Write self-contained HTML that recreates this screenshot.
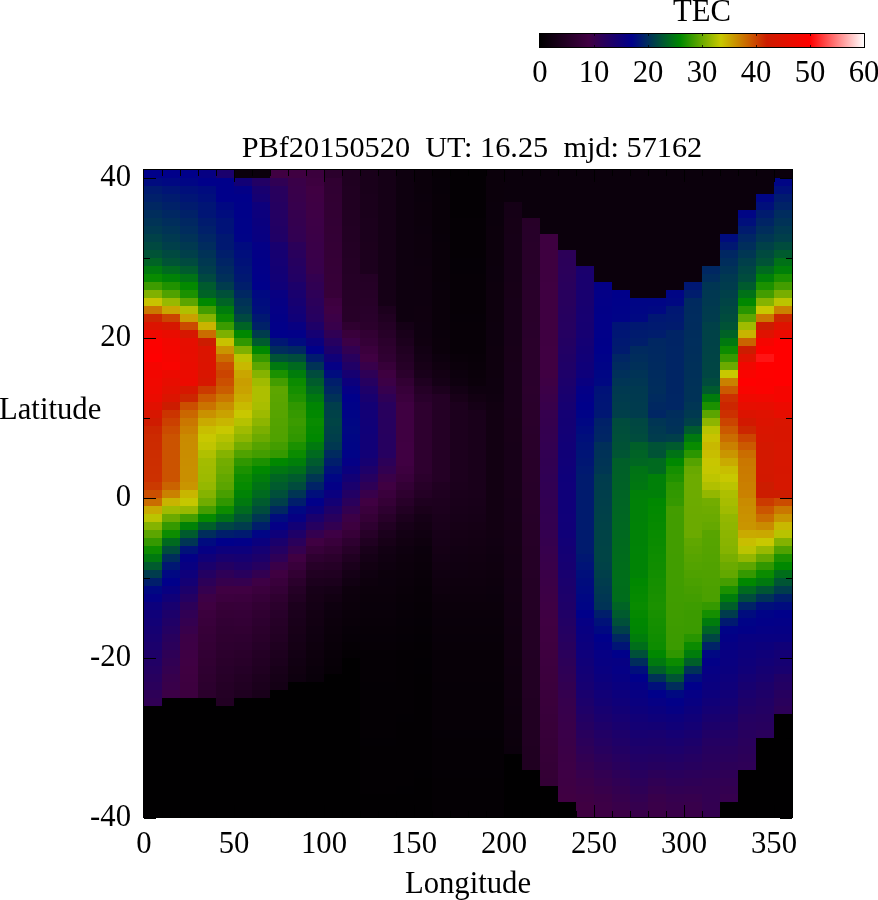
<!DOCTYPE html><html><head><meta charset="utf-8"><title>TEC map</title><style>
html,body{margin:0;padding:0;background:#fff}
#w{position:relative;width:878px;height:900px;background:#fff;overflow:hidden;font-family:"Liberation Serif",serif;font-size:30.7px;color:#000}
.t{position:absolute;white-space:pre;line-height:1;will-change:transform}
.k{position:absolute;background:#000}
svg{position:absolute;left:0;top:0}
</style></head><body><div id="w">
<svg width="878" height="900" viewBox="0 0 878 900" shape-rendering="crispEdges">
<rect x="144" y="170" width="648" height="648" fill="#0b000c"/>
<rect x="144" y="170" width="18" height="8" fill="#00008a"/>
<rect x="144" y="178" width="18" height="8" fill="#000b7f"/>
<rect x="144" y="186" width="18" height="8" fill="#001a70"/>
<rect x="144" y="194" width="18" height="8" fill="#00206a"/>
<rect x="144" y="202" width="18" height="8" fill="#002762"/>
<rect x="144" y="210" width="18" height="8" fill="#002d5c"/>
<rect x="144" y="218" width="18" height="8" fill="#003356"/>
<rect x="144" y="226" width="18" height="8" fill="#003950"/>
<rect x="144" y="234" width="18" height="8" fill="#004148"/>
<rect x="144" y="242" width="18" height="8" fill="#004940"/>
<rect x="144" y="250" width="18" height="8" fill="#005336"/>
<rect x="144" y="258" width="18" height="8" fill="#006425"/>
<rect x="144" y="266" width="18" height="8" fill="#007a0e"/>
<rect x="144" y="274" width="18" height="8" fill="#088b00"/>
<rect x="144" y="282" width="18" height="8" fill="#3d9c00"/>
<rect x="144" y="290" width="18" height="8" fill="#80b100"/>
<rect x="144" y="298" width="18" height="8" fill="#c8c400"/>
<rect x="144" y="306" width="18" height="8" fill="#ca7700"/>
<rect x="144" y="314" width="18" height="8" fill="#cc2600"/>
<rect x="144" y="322" width="18" height="8" fill="#dc1300"/>
<rect x="144" y="330" width="18" height="8" fill="#ef0900"/>
<rect x="144" y="338" width="18" height="8" fill="#fc0200"/>
<rect x="144" y="346" width="18" height="8" fill="#fd0100"/>
<rect x="144" y="354" width="18" height="8" fill="#ff0000"/>
<rect x="144" y="362" width="18" height="8" fill="#f50500"/>
<rect x="144" y="370" width="18" height="8" fill="#f30600"/>
<rect x="144" y="378" width="18" height="8" fill="#f10800"/>
<rect x="144" y="386" width="18" height="8" fill="#ef0900"/>
<rect x="144" y="394" width="18" height="8" fill="#eb0b00"/>
<rect x="144" y="402" width="18" height="8" fill="#e11000"/>
<rect x="144" y="410" width="18" height="8" fill="#d71600"/>
<rect x="144" y="418" width="18" height="8" fill="#cf1b00"/>
<rect x="144" y="426" width="18" height="8" fill="#cc2600"/>
<rect x="144" y="434" width="18" height="8" fill="#cc2a00"/>
<rect x="144" y="442" width="18" height="8" fill="#cc2b00"/>
<rect x="144" y="450" width="18" height="8" fill="#cc2d00"/>
<rect x="144" y="458" width="18" height="8" fill="#cc2e00"/>
<rect x="144" y="466" width="18" height="8" fill="#cc2f00"/>
<rect x="144" y="474" width="18" height="8" fill="#cc3000"/>
<rect x="144" y="482" width="18" height="8" fill="#cb3a00"/>
<rect x="144" y="490" width="18" height="8" fill="#cb4f00"/>
<rect x="144" y="498" width="18" height="8" fill="#ca6d00"/>
<rect x="144" y="506" width="18" height="8" fill="#c9aa00"/>
<rect x="144" y="514" width="18" height="8" fill="#bbc400"/>
<rect x="144" y="522" width="18" height="8" fill="#85b300"/>
<rect x="144" y="530" width="18" height="8" fill="#5da600"/>
<rect x="144" y="538" width="18" height="8" fill="#359900"/>
<rect x="144" y="546" width="18" height="8" fill="#0d8c00"/>
<rect x="144" y="554" width="18" height="8" fill="#00790f"/>
<rect x="144" y="562" width="18" height="8" fill="#005b2e"/>
<rect x="144" y="570" width="18" height="8" fill="#003c4d"/>
<rect x="144" y="578" width="18" height="8" fill="#001e6b"/>
<rect x="144" y="586" width="18" height="8" fill="#000882"/>
<rect x="144" y="594" width="18" height="8" fill="#040086"/>
<rect x="144" y="602" width="18" height="8" fill="#0c007c"/>
<rect x="144" y="610" width="18" height="8" fill="#0f0079"/>
<rect x="144" y="618" width="18" height="8" fill="#120076"/>
<rect x="144" y="626" width="18" height="8" fill="#150072"/>
<rect x="144" y="634" width="18" height="8" fill="#18006f"/>
<rect x="144" y="642" width="18" height="8" fill="#1b006c"/>
<rect x="144" y="650" width="18" height="8" fill="#1e0068"/>
<rect x="144" y="658" width="18" height="8" fill="#210065"/>
<rect x="144" y="666" width="18" height="8" fill="#240062"/>
<rect x="144" y="674" width="18" height="8" fill="#27005e"/>
<rect x="144" y="682" width="18" height="8" fill="#2a005b"/>
<rect x="144" y="690" width="18" height="8" fill="#2d0057"/>
<rect x="144" y="698" width="18" height="8" fill="#300054"/>
<rect x="144" y="706" width="18" height="112" fill="#010001"/>
<rect x="162" y="170" width="18" height="8" fill="#00008a"/>
<rect x="162" y="178" width="18" height="8" fill="#000882"/>
<rect x="162" y="186" width="18" height="8" fill="#001476"/>
<rect x="162" y="194" width="18" height="8" fill="#001b6e"/>
<rect x="162" y="202" width="18" height="8" fill="#002168"/>
<rect x="162" y="210" width="18" height="8" fill="#002762"/>
<rect x="162" y="218" width="18" height="8" fill="#002d5c"/>
<rect x="162" y="226" width="18" height="8" fill="#003356"/>
<rect x="162" y="234" width="18" height="8" fill="#003950"/>
<rect x="162" y="242" width="18" height="8" fill="#003f4a"/>
<rect x="162" y="250" width="18" height="8" fill="#004940"/>
<rect x="162" y="258" width="18" height="8" fill="#005336"/>
<rect x="162" y="266" width="18" height="8" fill="#006a1f"/>
<rect x="162" y="274" width="18" height="8" fill="#008206"/>
<rect x="162" y="282" width="18" height="8" fill="#209200"/>
<rect x="162" y="290" width="18" height="8" fill="#50a200"/>
<rect x="162" y="298" width="18" height="8" fill="#98b900"/>
<rect x="162" y="306" width="18" height="8" fill="#c9a600"/>
<rect x="162" y="314" width="18" height="8" fill="#cb4400"/>
<rect x="162" y="322" width="18" height="8" fill="#d61700"/>
<rect x="162" y="330" width="18" height="8" fill="#e90c00"/>
<rect x="162" y="338" width="18" height="8" fill="#f20700"/>
<rect x="162" y="346" width="18" height="8" fill="#f40600"/>
<rect x="162" y="354" width="18" height="8" fill="#f60500"/>
<rect x="162" y="362" width="18" height="8" fill="#f90400"/>
<rect x="162" y="370" width="18" height="8" fill="#ec0a00"/>
<rect x="162" y="378" width="18" height="8" fill="#e70d00"/>
<rect x="162" y="386" width="18" height="8" fill="#e21000"/>
<rect x="162" y="394" width="18" height="8" fill="#db1400"/>
<rect x="162" y="402" width="18" height="8" fill="#cc1c00"/>
<rect x="162" y="410" width="18" height="8" fill="#cb3400"/>
<rect x="162" y="418" width="18" height="8" fill="#cb4000"/>
<rect x="162" y="426" width="18" height="8" fill="#cb4b00"/>
<rect x="162" y="434" width="18" height="48" fill="#cb5300"/>
<rect x="162" y="482" width="18" height="8" fill="#ca6300"/>
<rect x="162" y="490" width="18" height="8" fill="#ca8100"/>
<rect x="162" y="498" width="18" height="8" fill="#c8b400"/>
<rect x="162" y="506" width="18" height="8" fill="#a0bb00"/>
<rect x="162" y="514" width="18" height="8" fill="#6baa00"/>
<rect x="162" y="522" width="18" height="8" fill="#359900"/>
<rect x="162" y="530" width="18" height="8" fill="#0d8c00"/>
<rect x="162" y="538" width="18" height="8" fill="#006a1f"/>
<rect x="162" y="546" width="18" height="8" fill="#004c3d"/>
<rect x="162" y="554" width="18" height="8" fill="#002d5c"/>
<rect x="162" y="562" width="18" height="8" fill="#001773"/>
<rect x="162" y="570" width="18" height="8" fill="#000882"/>
<rect x="162" y="578" width="18" height="8" fill="#00008a"/>
<rect x="162" y="586" width="18" height="8" fill="#080081"/>
<rect x="162" y="594" width="18" height="8" fill="#100078"/>
<rect x="162" y="602" width="18" height="8" fill="#18006f"/>
<rect x="162" y="610" width="18" height="8" fill="#1c006a"/>
<rect x="162" y="618" width="18" height="8" fill="#200066"/>
<rect x="162" y="626" width="18" height="8" fill="#240062"/>
<rect x="162" y="634" width="18" height="8" fill="#28005d"/>
<rect x="162" y="642" width="18" height="8" fill="#2b005a"/>
<rect x="162" y="650" width="18" height="8" fill="#2e0056"/>
<rect x="162" y="658" width="18" height="8" fill="#310053"/>
<rect x="162" y="666" width="18" height="8" fill="#340050"/>
<rect x="162" y="674" width="18" height="8" fill="#37004c"/>
<rect x="162" y="682" width="18" height="8" fill="#39004a"/>
<rect x="162" y="690" width="18" height="8" fill="#3c0046"/>
<rect x="162" y="698" width="18" height="120" fill="#010001"/>
<rect x="180" y="170" width="18" height="8" fill="#00008a"/>
<rect x="180" y="178" width="18" height="8" fill="#000585"/>
<rect x="180" y="186" width="18" height="8" fill="#000f7b"/>
<rect x="180" y="194" width="18" height="8" fill="#001575"/>
<rect x="180" y="202" width="18" height="8" fill="#001b6e"/>
<rect x="180" y="210" width="18" height="8" fill="#002168"/>
<rect x="180" y="218" width="18" height="8" fill="#002762"/>
<rect x="180" y="226" width="18" height="8" fill="#002c5e"/>
<rect x="180" y="234" width="18" height="8" fill="#003257"/>
<rect x="180" y="242" width="18" height="8" fill="#003950"/>
<rect x="180" y="250" width="18" height="8" fill="#003f4a"/>
<rect x="180" y="258" width="18" height="8" fill="#004a3f"/>
<rect x="180" y="266" width="18" height="8" fill="#005b2e"/>
<rect x="180" y="274" width="18" height="8" fill="#007315"/>
<rect x="180" y="282" width="18" height="8" fill="#038900"/>
<rect x="180" y="290" width="18" height="8" fill="#1b9100"/>
<rect x="180" y="298" width="18" height="8" fill="#5ba500"/>
<rect x="180" y="306" width="18" height="8" fill="#b0c000"/>
<rect x="180" y="314" width="18" height="8" fill="#c9a000"/>
<rect x="180" y="322" width="18" height="8" fill="#cb4b00"/>
<rect x="180" y="330" width="18" height="8" fill="#d61700"/>
<rect x="180" y="338" width="18" height="8" fill="#e60e00"/>
<rect x="180" y="346" width="18" height="8" fill="#e70d00"/>
<rect x="180" y="354" width="18" height="8" fill="#e80d00"/>
<rect x="180" y="362" width="18" height="8" fill="#e90c00"/>
<rect x="180" y="370" width="18" height="8" fill="#eb0b00"/>
<rect x="180" y="378" width="18" height="8" fill="#ec0a00"/>
<rect x="180" y="386" width="18" height="8" fill="#d61700"/>
<rect x="180" y="394" width="18" height="8" fill="#cc2600"/>
<rect x="180" y="402" width="18" height="8" fill="#cb4f00"/>
<rect x="180" y="410" width="18" height="8" fill="#ca6700"/>
<rect x="180" y="418" width="18" height="8" fill="#ca7700"/>
<rect x="180" y="426" width="18" height="8" fill="#ca8100"/>
<rect x="180" y="434" width="18" height="8" fill="#c98b00"/>
<rect x="180" y="442" width="18" height="8" fill="#c98c00"/>
<rect x="180" y="450" width="18" height="8" fill="#c98d00"/>
<rect x="180" y="458" width="18" height="8" fill="#c98e00"/>
<rect x="180" y="466" width="18" height="16" fill="#c98f00"/>
<rect x="180" y="482" width="18" height="8" fill="#c99500"/>
<rect x="180" y="490" width="18" height="8" fill="#c8b600"/>
<rect x="180" y="498" width="18" height="8" fill="#c5c700"/>
<rect x="180" y="506" width="18" height="8" fill="#98b900"/>
<rect x="180" y="514" width="18" height="8" fill="#459e00"/>
<rect x="180" y="522" width="18" height="8" fill="#008206"/>
<rect x="180" y="530" width="18" height="8" fill="#005b2e"/>
<rect x="180" y="538" width="18" height="8" fill="#003554"/>
<rect x="180" y="546" width="18" height="8" fill="#001278"/>
<rect x="180" y="554" width="18" height="8" fill="#030086"/>
<rect x="180" y="562" width="18" height="8" fill="#080081"/>
<rect x="180" y="570" width="18" height="8" fill="#0e007b"/>
<rect x="180" y="578" width="18" height="8" fill="#140074"/>
<rect x="180" y="586" width="18" height="8" fill="#1c006a"/>
<rect x="180" y="594" width="18" height="8" fill="#240062"/>
<rect x="180" y="602" width="18" height="8" fill="#2c0058"/>
<rect x="180" y="610" width="18" height="8" fill="#300054"/>
<rect x="180" y="618" width="18" height="8" fill="#340050"/>
<rect x="180" y="626" width="18" height="8" fill="#38004b"/>
<rect x="180" y="634" width="18" height="8" fill="#3c0046"/>
<rect x="180" y="642" width="18" height="8" fill="#3d0045"/>
<rect x="180" y="650" width="18" height="8" fill="#3e0044"/>
<rect x="180" y="658" width="18" height="8" fill="#3f0043"/>
<rect x="180" y="666" width="18" height="8" fill="#3f0041"/>
<rect x="180" y="674" width="18" height="8" fill="#3e0040"/>
<rect x="180" y="682" width="18" height="8" fill="#3d003f"/>
<rect x="180" y="690" width="18" height="8" fill="#3c003e"/>
<rect x="180" y="698" width="18" height="120" fill="#010001"/>
<rect x="198" y="170" width="18" height="8" fill="#060083"/>
<rect x="198" y="178" width="18" height="8" fill="#00008a"/>
<rect x="198" y="186" width="18" height="8" fill="#000b7f"/>
<rect x="198" y="194" width="18" height="8" fill="#000f7b"/>
<rect x="198" y="202" width="18" height="16" fill="#001575"/>
<rect x="198" y="218" width="18" height="8" fill="#001b6e"/>
<rect x="198" y="226" width="18" height="8" fill="#00206a"/>
<rect x="198" y="234" width="18" height="8" fill="#002664"/>
<rect x="198" y="242" width="18" height="8" fill="#002c5e"/>
<rect x="198" y="250" width="18" height="8" fill="#003257"/>
<rect x="198" y="258" width="18" height="8" fill="#003851"/>
<rect x="198" y="266" width="18" height="8" fill="#003e4b"/>
<rect x="198" y="274" width="18" height="8" fill="#004940"/>
<rect x="198" y="282" width="18" height="8" fill="#005b2e"/>
<rect x="198" y="290" width="18" height="8" fill="#006226"/>
<rect x="198" y="298" width="18" height="8" fill="#008800"/>
<rect x="198" y="306" width="18" height="8" fill="#439d00"/>
<rect x="198" y="314" width="18" height="8" fill="#85b300"/>
<rect x="198" y="322" width="18" height="8" fill="#c8b400"/>
<rect x="198" y="330" width="18" height="8" fill="#ca6d00"/>
<rect x="198" y="338" width="18" height="8" fill="#cc1c00"/>
<rect x="198" y="346" width="18" height="16" fill="#db1400"/>
<rect x="198" y="362" width="18" height="8" fill="#dc1300"/>
<rect x="198" y="370" width="18" height="8" fill="#d91500"/>
<rect x="198" y="378" width="18" height="8" fill="#d61700"/>
<rect x="198" y="386" width="18" height="8" fill="#cb3a00"/>
<rect x="198" y="394" width="18" height="8" fill="#cb5900"/>
<rect x="198" y="402" width="18" height="8" fill="#ca7300"/>
<rect x="198" y="410" width="18" height="8" fill="#c99100"/>
<rect x="198" y="418" width="18" height="8" fill="#c9aa00"/>
<rect x="198" y="426" width="18" height="8" fill="#c8be00"/>
<rect x="198" y="434" width="18" height="8" fill="#c8c800"/>
<rect x="198" y="442" width="18" height="8" fill="#c0c500"/>
<rect x="198" y="450" width="18" height="8" fill="#b0c000"/>
<rect x="198" y="458" width="18" height="8" fill="#a3bc00"/>
<rect x="198" y="466" width="18" height="8" fill="#a0bb00"/>
<rect x="198" y="474" width="18" height="8" fill="#9dba00"/>
<rect x="198" y="482" width="18" height="8" fill="#95b800"/>
<rect x="198" y="490" width="18" height="8" fill="#85b300"/>
<rect x="198" y="498" width="18" height="8" fill="#70ac00"/>
<rect x="198" y="506" width="18" height="8" fill="#459e00"/>
<rect x="198" y="514" width="18" height="8" fill="#058a00"/>
<rect x="198" y="522" width="18" height="8" fill="#005f29"/>
<rect x="198" y="530" width="18" height="8" fill="#002d5c"/>
<rect x="198" y="538" width="18" height="8" fill="#000b7f"/>
<rect x="198" y="546" width="18" height="8" fill="#060083"/>
<rect x="198" y="554" width="18" height="8" fill="#100078"/>
<rect x="198" y="562" width="18" height="8" fill="#1a006c"/>
<rect x="198" y="570" width="18" height="8" fill="#230062"/>
<rect x="198" y="578" width="18" height="8" fill="#2c0058"/>
<rect x="198" y="586" width="18" height="8" fill="#35004f"/>
<rect x="198" y="594" width="18" height="8" fill="#3d0046"/>
<rect x="198" y="602" width="18" height="8" fill="#3f0041"/>
<rect x="198" y="610" width="18" height="8" fill="#3b003d"/>
<rect x="198" y="618" width="18" height="8" fill="#39003b"/>
<rect x="198" y="626" width="18" height="8" fill="#370038"/>
<rect x="198" y="634" width="18" height="8" fill="#350037"/>
<rect x="198" y="642" width="18" height="8" fill="#340035"/>
<rect x="198" y="650" width="18" height="8" fill="#320034"/>
<rect x="198" y="658" width="18" height="8" fill="#310032"/>
<rect x="198" y="666" width="18" height="8" fill="#2f0031"/>
<rect x="198" y="674" width="18" height="8" fill="#2e002f"/>
<rect x="198" y="682" width="18" height="8" fill="#2c002e"/>
<rect x="198" y="690" width="18" height="8" fill="#2b002c"/>
<rect x="198" y="698" width="18" height="120" fill="#010001"/>
<rect x="216" y="170" width="18" height="8" fill="#1a006d"/>
<rect x="216" y="178" width="18" height="24" fill="#00008a"/>
<rect x="216" y="202" width="18" height="8" fill="#000882"/>
<rect x="216" y="210" width="18" height="8" fill="#000c7e"/>
<rect x="216" y="218" width="18" height="16" fill="#001278"/>
<rect x="216" y="234" width="18" height="16" fill="#001871"/>
<rect x="216" y="250" width="18" height="8" fill="#001e6b"/>
<rect x="216" y="258" width="18" height="8" fill="#002465"/>
<rect x="216" y="266" width="18" height="8" fill="#002a5f"/>
<rect x="216" y="274" width="18" height="8" fill="#003059"/>
<rect x="216" y="282" width="18" height="8" fill="#003c4d"/>
<rect x="216" y="290" width="18" height="8" fill="#005039"/>
<rect x="216" y="298" width="18" height="8" fill="#006425"/>
<rect x="216" y="306" width="18" height="8" fill="#007c0c"/>
<rect x="216" y="314" width="18" height="8" fill="#0b8b00"/>
<rect x="216" y="322" width="18" height="8" fill="#3b9b00"/>
<rect x="216" y="330" width="18" height="8" fill="#7db000"/>
<rect x="216" y="338" width="18" height="8" fill="#c8c200"/>
<rect x="216" y="346" width="18" height="8" fill="#c99500"/>
<rect x="216" y="354" width="18" height="8" fill="#ca6d00"/>
<rect x="216" y="362" width="18" height="8" fill="#cb4f00"/>
<rect x="216" y="370" width="18" height="8" fill="#cb4400"/>
<rect x="216" y="378" width="18" height="8" fill="#cb4f00"/>
<rect x="216" y="386" width="18" height="8" fill="#ca5d00"/>
<rect x="216" y="394" width="18" height="8" fill="#ca7700"/>
<rect x="216" y="402" width="18" height="8" fill="#c98f00"/>
<rect x="216" y="410" width="18" height="8" fill="#c9a200"/>
<rect x="216" y="418" width="18" height="8" fill="#c8b600"/>
<rect x="216" y="426" width="18" height="8" fill="#c8c800"/>
<rect x="216" y="434" width="18" height="8" fill="#b5c200"/>
<rect x="216" y="442" width="18" height="8" fill="#a5bd00"/>
<rect x="216" y="450" width="18" height="8" fill="#85b300"/>
<rect x="216" y="458" width="18" height="8" fill="#73ad00"/>
<rect x="216" y="466" width="18" height="8" fill="#6dab00"/>
<rect x="216" y="474" width="18" height="8" fill="#63a800"/>
<rect x="216" y="482" width="18" height="8" fill="#5ba500"/>
<rect x="216" y="490" width="18" height="8" fill="#489f00"/>
<rect x="216" y="498" width="18" height="8" fill="#309700"/>
<rect x="216" y="506" width="18" height="8" fill="#0d8c00"/>
<rect x="216" y="514" width="18" height="8" fill="#007117"/>
<rect x="216" y="522" width="18" height="8" fill="#004643"/>
<rect x="216" y="530" width="18" height="8" fill="#001e6b"/>
<rect x="216" y="538" width="18" height="8" fill="#00008a"/>
<rect x="216" y="546" width="18" height="8" fill="#0d007c"/>
<rect x="216" y="554" width="18" height="8" fill="#18006f"/>
<rect x="216" y="562" width="18" height="8" fill="#230062"/>
<rect x="216" y="570" width="18" height="8" fill="#2e0057"/>
<rect x="216" y="578" width="18" height="8" fill="#36004d"/>
<rect x="216" y="586" width="18" height="8" fill="#400042"/>
<rect x="216" y="594" width="18" height="8" fill="#3c003e"/>
<rect x="216" y="602" width="18" height="8" fill="#370038"/>
<rect x="216" y="610" width="18" height="8" fill="#350036"/>
<rect x="216" y="618" width="18" height="8" fill="#320034"/>
<rect x="216" y="626" width="18" height="8" fill="#300032"/>
<rect x="216" y="634" width="18" height="8" fill="#2f0030"/>
<rect x="216" y="642" width="18" height="8" fill="#2d002f"/>
<rect x="216" y="650" width="18" height="8" fill="#2c002d"/>
<rect x="216" y="658" width="18" height="8" fill="#2a002b"/>
<rect x="216" y="666" width="18" height="8" fill="#28002a"/>
<rect x="216" y="674" width="18" height="8" fill="#270028"/>
<rect x="216" y="682" width="18" height="8" fill="#250026"/>
<rect x="216" y="690" width="18" height="8" fill="#240025"/>
<rect x="216" y="698" width="18" height="8" fill="#220023"/>
<rect x="216" y="706" width="18" height="112" fill="#010001"/>
<rect x="234" y="178" width="18" height="8" fill="#120075"/>
<rect x="234" y="186" width="18" height="8" fill="#030086"/>
<rect x="234" y="194" width="18" height="8" fill="#00008a"/>
<rect x="234" y="202" width="18" height="16" fill="#000189"/>
<rect x="234" y="218" width="18" height="16" fill="#000288"/>
<rect x="234" y="234" width="18" height="8" fill="#000387"/>
<rect x="234" y="242" width="18" height="8" fill="#000b7f"/>
<rect x="234" y="250" width="18" height="8" fill="#000e7c"/>
<rect x="234" y="258" width="18" height="8" fill="#001178"/>
<rect x="234" y="266" width="18" height="8" fill="#001575"/>
<rect x="234" y="274" width="18" height="8" fill="#001871"/>
<rect x="234" y="282" width="18" height="8" fill="#001e6b"/>
<rect x="234" y="290" width="18" height="8" fill="#002762"/>
<rect x="234" y="298" width="18" height="8" fill="#003257"/>
<rect x="234" y="306" width="18" height="8" fill="#003950"/>
<rect x="234" y="314" width="18" height="8" fill="#004940"/>
<rect x="234" y="322" width="18" height="8" fill="#006425"/>
<rect x="234" y="330" width="18" height="8" fill="#008800"/>
<rect x="234" y="338" width="18" height="8" fill="#309700"/>
<rect x="234" y="346" width="18" height="8" fill="#7db000"/>
<rect x="234" y="354" width="18" height="8" fill="#bbc400"/>
<rect x="234" y="362" width="18" height="8" fill="#c8b800"/>
<rect x="234" y="370" width="18" height="8" fill="#c9a600"/>
<rect x="234" y="378" width="18" height="8" fill="#c99e00"/>
<rect x="234" y="386" width="18" height="8" fill="#c9a200"/>
<rect x="234" y="394" width="18" height="8" fill="#c9ac00"/>
<rect x="234" y="402" width="18" height="8" fill="#c8ba00"/>
<rect x="234" y="410" width="18" height="8" fill="#c8c800"/>
<rect x="234" y="418" width="18" height="8" fill="#b5c200"/>
<rect x="234" y="426" width="18" height="8" fill="#a0bb00"/>
<rect x="234" y="434" width="18" height="8" fill="#8db500"/>
<rect x="234" y="442" width="18" height="8" fill="#70ac00"/>
<rect x="234" y="450" width="18" height="8" fill="#50a200"/>
<rect x="234" y="458" width="18" height="8" fill="#309700"/>
<rect x="234" y="466" width="18" height="8" fill="#1b9100"/>
<rect x="234" y="474" width="18" height="8" fill="#0d8c00"/>
<rect x="234" y="482" width="18" height="8" fill="#058a00"/>
<rect x="234" y="490" width="18" height="8" fill="#008305"/>
<rect x="234" y="498" width="18" height="8" fill="#00790f"/>
<rect x="234" y="506" width="18" height="8" fill="#006a1f"/>
<rect x="234" y="514" width="18" height="8" fill="#005534"/>
<rect x="234" y="522" width="18" height="8" fill="#003c4d"/>
<rect x="234" y="530" width="18" height="8" fill="#001a70"/>
<rect x="234" y="538" width="18" height="8" fill="#020088"/>
<rect x="234" y="546" width="18" height="8" fill="#0d007c"/>
<rect x="234" y="554" width="18" height="8" fill="#160071"/>
<rect x="234" y="562" width="18" height="8" fill="#1e0068"/>
<rect x="234" y="570" width="18" height="8" fill="#28005d"/>
<rect x="234" y="578" width="18" height="8" fill="#35004f"/>
<rect x="234" y="586" width="18" height="8" fill="#400042"/>
<rect x="234" y="594" width="18" height="8" fill="#3b003d"/>
<rect x="234" y="602" width="18" height="8" fill="#370039"/>
<rect x="234" y="610" width="18" height="8" fill="#350037"/>
<rect x="234" y="618" width="18" height="8" fill="#330035"/>
<rect x="234" y="626" width="18" height="8" fill="#310032"/>
<rect x="234" y="634" width="18" height="8" fill="#2e0030"/>
<rect x="234" y="642" width="18" height="8" fill="#2c002e"/>
<rect x="234" y="650" width="18" height="8" fill="#2a002b"/>
<rect x="234" y="658" width="18" height="8" fill="#280029"/>
<rect x="234" y="666" width="18" height="8" fill="#250027"/>
<rect x="234" y="674" width="18" height="8" fill="#230024"/>
<rect x="234" y="682" width="18" height="8" fill="#210022"/>
<rect x="234" y="690" width="18" height="8" fill="#1f0020"/>
<rect x="234" y="698" width="18" height="120" fill="#010001"/>
<rect x="252" y="178" width="18" height="8" fill="#220064"/>
<rect x="252" y="186" width="18" height="8" fill="#18006f"/>
<rect x="252" y="194" width="18" height="8" fill="#150073"/>
<rect x="252" y="202" width="18" height="8" fill="#0d007c"/>
<rect x="252" y="210" width="18" height="8" fill="#0c007d"/>
<rect x="252" y="218" width="18" height="8" fill="#0a007e"/>
<rect x="252" y="226" width="18" height="8" fill="#090080"/>
<rect x="252" y="234" width="18" height="8" fill="#080081"/>
<rect x="252" y="242" width="18" height="8" fill="#040086"/>
<rect x="252" y="250" width="18" height="8" fill="#030086"/>
<rect x="252" y="258" width="18" height="8" fill="#020087"/>
<rect x="252" y="266" width="18" height="8" fill="#020088"/>
<rect x="252" y="274" width="18" height="8" fill="#010089"/>
<rect x="252" y="282" width="18" height="8" fill="#00008a"/>
<rect x="252" y="290" width="18" height="8" fill="#000981"/>
<rect x="252" y="298" width="18" height="8" fill="#000c7e"/>
<rect x="252" y="306" width="18" height="8" fill="#000f7b"/>
<rect x="252" y="314" width="18" height="8" fill="#001871"/>
<rect x="252" y="322" width="18" height="8" fill="#002168"/>
<rect x="252" y="330" width="18" height="8" fill="#003c4d"/>
<rect x="252" y="338" width="18" height="8" fill="#005b2e"/>
<rect x="252" y="346" width="18" height="8" fill="#008800"/>
<rect x="252" y="354" width="18" height="8" fill="#359900"/>
<rect x="252" y="362" width="18" height="8" fill="#5da600"/>
<rect x="252" y="370" width="18" height="8" fill="#85b300"/>
<rect x="252" y="378" width="18" height="8" fill="#a0bb00"/>
<rect x="252" y="386" width="18" height="16" fill="#adbf00"/>
<rect x="252" y="402" width="18" height="8" fill="#a8be00"/>
<rect x="252" y="410" width="18" height="8" fill="#9dba00"/>
<rect x="252" y="418" width="18" height="8" fill="#8db500"/>
<rect x="252" y="426" width="18" height="8" fill="#7baf00"/>
<rect x="252" y="434" width="18" height="8" fill="#6baa00"/>
<rect x="252" y="442" width="18" height="8" fill="#55a300"/>
<rect x="252" y="450" width="18" height="8" fill="#439d00"/>
<rect x="252" y="458" width="18" height="8" fill="#1b9100"/>
<rect x="252" y="466" width="18" height="8" fill="#008800"/>
<rect x="252" y="474" width="18" height="8" fill="#007d0b"/>
<rect x="252" y="482" width="18" height="8" fill="#007315"/>
<rect x="252" y="490" width="18" height="8" fill="#006a1f"/>
<rect x="252" y="498" width="18" height="8" fill="#005b2e"/>
<rect x="252" y="506" width="18" height="8" fill="#004c3d"/>
<rect x="252" y="514" width="18" height="8" fill="#003653"/>
<rect x="252" y="522" width="18" height="8" fill="#001e6b"/>
<rect x="252" y="530" width="18" height="8" fill="#000585"/>
<rect x="252" y="538" width="18" height="8" fill="#0a007e"/>
<rect x="252" y="546" width="18" height="8" fill="#150073"/>
<rect x="252" y="554" width="18" height="8" fill="#1c006a"/>
<rect x="252" y="562" width="18" height="8" fill="#260060"/>
<rect x="252" y="570" width="18" height="8" fill="#320051"/>
<rect x="252" y="578" width="18" height="8" fill="#3e0045"/>
<rect x="252" y="586" width="18" height="8" fill="#3b003d"/>
<rect x="252" y="594" width="18" height="8" fill="#360038"/>
<rect x="252" y="602" width="18" height="8" fill="#320033"/>
<rect x="252" y="610" width="18" height="8" fill="#300031"/>
<rect x="252" y="618" width="18" height="8" fill="#2d002f"/>
<rect x="252" y="626" width="18" height="8" fill="#2b002c"/>
<rect x="252" y="634" width="18" height="8" fill="#29002a"/>
<rect x="252" y="642" width="18" height="8" fill="#260028"/>
<rect x="252" y="650" width="18" height="8" fill="#240025"/>
<rect x="252" y="658" width="18" height="8" fill="#220023"/>
<rect x="252" y="666" width="18" height="8" fill="#200021"/>
<rect x="252" y="674" width="18" height="8" fill="#1d001e"/>
<rect x="252" y="682" width="18" height="8" fill="#1b001c"/>
<rect x="252" y="690" width="18" height="8" fill="#19001a"/>
<rect x="252" y="698" width="18" height="120" fill="#010001"/>
<rect x="270" y="170" width="18" height="8" fill="#400042"/>
<rect x="270" y="178" width="18" height="8" fill="#300054"/>
<rect x="270" y="186" width="18" height="8" fill="#28005d"/>
<rect x="270" y="194" width="18" height="8" fill="#27005e"/>
<rect x="270" y="202" width="18" height="8" fill="#250060"/>
<rect x="270" y="210" width="18" height="8" fill="#240062"/>
<rect x="270" y="218" width="18" height="8" fill="#230063"/>
<rect x="270" y="226" width="18" height="8" fill="#210064"/>
<rect x="270" y="234" width="18" height="8" fill="#200066"/>
<rect x="270" y="242" width="18" height="8" fill="#18006f"/>
<rect x="270" y="250" width="18" height="8" fill="#160071"/>
<rect x="270" y="258" width="18" height="8" fill="#150073"/>
<rect x="270" y="266" width="18" height="8" fill="#130074"/>
<rect x="270" y="274" width="18" height="8" fill="#120076"/>
<rect x="270" y="282" width="18" height="8" fill="#100078"/>
<rect x="270" y="290" width="18" height="8" fill="#080081"/>
<rect x="270" y="298" width="18" height="8" fill="#060083"/>
<rect x="270" y="306" width="18" height="8" fill="#050085"/>
<rect x="270" y="314" width="18" height="8" fill="#030086"/>
<rect x="270" y="322" width="18" height="8" fill="#020088"/>
<rect x="270" y="330" width="18" height="8" fill="#00008a"/>
<rect x="270" y="338" width="18" height="8" fill="#001773"/>
<rect x="270" y="346" width="18" height="8" fill="#002d5c"/>
<rect x="270" y="354" width="18" height="8" fill="#005336"/>
<rect x="270" y="362" width="18" height="8" fill="#00790f"/>
<rect x="270" y="370" width="18" height="8" fill="#1b9100"/>
<rect x="270" y="378" width="18" height="8" fill="#439d00"/>
<rect x="270" y="386" width="18" height="8" fill="#5da600"/>
<rect x="270" y="394" width="18" height="8" fill="#5ba500"/>
<rect x="270" y="402" width="18" height="8" fill="#59a400"/>
<rect x="270" y="410" width="18" height="8" fill="#57a400"/>
<rect x="270" y="418" width="18" height="8" fill="#54a300"/>
<rect x="270" y="426" width="18" height="8" fill="#52a200"/>
<rect x="270" y="434" width="18" height="8" fill="#50a200"/>
<rect x="270" y="442" width="18" height="8" fill="#439d00"/>
<rect x="270" y="450" width="18" height="8" fill="#359900"/>
<rect x="270" y="458" width="18" height="8" fill="#008800"/>
<rect x="270" y="466" width="18" height="8" fill="#007612"/>
<rect x="270" y="474" width="18" height="8" fill="#006523"/>
<rect x="270" y="482" width="18" height="8" fill="#005b2e"/>
<rect x="270" y="490" width="18" height="8" fill="#004f3a"/>
<rect x="270" y="498" width="18" height="8" fill="#003f4a"/>
<rect x="270" y="506" width="18" height="8" fill="#002762"/>
<rect x="270" y="514" width="18" height="8" fill="#000c7e"/>
<rect x="270" y="522" width="18" height="8" fill="#040086"/>
<rect x="270" y="530" width="18" height="8" fill="#0e007a"/>
<rect x="270" y="538" width="18" height="8" fill="#1a006c"/>
<rect x="270" y="546" width="18" height="8" fill="#240062"/>
<rect x="270" y="554" width="18" height="8" fill="#2e0057"/>
<rect x="270" y="562" width="18" height="8" fill="#3a0049"/>
<rect x="270" y="570" width="18" height="8" fill="#3f0041"/>
<rect x="270" y="578" width="18" height="8" fill="#39003b"/>
<rect x="270" y="586" width="18" height="8" fill="#340036"/>
<rect x="270" y="594" width="18" height="8" fill="#2f0030"/>
<rect x="270" y="602" width="18" height="8" fill="#2b002c"/>
<rect x="270" y="610" width="18" height="8" fill="#28002a"/>
<rect x="270" y="618" width="18" height="8" fill="#260027"/>
<rect x="270" y="626" width="18" height="8" fill="#240025"/>
<rect x="270" y="634" width="18" height="8" fill="#220023"/>
<rect x="270" y="642" width="18" height="8" fill="#1f0020"/>
<rect x="270" y="650" width="18" height="8" fill="#1d001e"/>
<rect x="270" y="658" width="18" height="8" fill="#1b001c"/>
<rect x="270" y="666" width="18" height="8" fill="#180019"/>
<rect x="270" y="674" width="18" height="8" fill="#160017"/>
<rect x="270" y="682" width="18" height="8" fill="#140015"/>
<rect x="270" y="690" width="18" height="128" fill="#010001"/>
<rect x="288" y="170" width="18" height="8" fill="#3f0041"/>
<rect x="288" y="178" width="18" height="8" fill="#3a0048"/>
<rect x="288" y="186" width="18" height="8" fill="#39004a"/>
<rect x="288" y="194" width="18" height="8" fill="#38004b"/>
<rect x="288" y="202" width="18" height="8" fill="#37004d"/>
<rect x="288" y="210" width="18" height="8" fill="#35004e"/>
<rect x="288" y="218" width="18" height="8" fill="#34004f"/>
<rect x="288" y="226" width="18" height="8" fill="#330051"/>
<rect x="288" y="234" width="18" height="8" fill="#320052"/>
<rect x="288" y="242" width="18" height="8" fill="#2b0059"/>
<rect x="288" y="250" width="18" height="8" fill="#29005c"/>
<rect x="288" y="258" width="18" height="8" fill="#26005f"/>
<rect x="288" y="266" width="18" height="8" fill="#240062"/>
<rect x="288" y="274" width="18" height="8" fill="#220064"/>
<rect x="288" y="282" width="18" height="8" fill="#1c006a"/>
<rect x="288" y="290" width="18" height="8" fill="#19006e"/>
<rect x="288" y="298" width="18" height="8" fill="#160071"/>
<rect x="288" y="306" width="18" height="8" fill="#130075"/>
<rect x="288" y="314" width="18" height="8" fill="#100078"/>
<rect x="288" y="322" width="18" height="8" fill="#080081"/>
<rect x="288" y="330" width="18" height="8" fill="#020088"/>
<rect x="288" y="338" width="18" height="8" fill="#000b7f"/>
<rect x="288" y="346" width="18" height="8" fill="#002762"/>
<rect x="288" y="354" width="18" height="8" fill="#004c3d"/>
<rect x="288" y="362" width="18" height="8" fill="#006a1f"/>
<rect x="288" y="370" width="18" height="8" fill="#007d0b"/>
<rect x="288" y="378" width="18" height="8" fill="#0b8b00"/>
<rect x="288" y="386" width="18" height="8" fill="#158f00"/>
<rect x="288" y="394" width="18" height="8" fill="#209200"/>
<rect x="288" y="402" width="18" height="8" fill="#309700"/>
<rect x="288" y="410" width="18" height="8" fill="#359900"/>
<rect x="288" y="418" width="18" height="8" fill="#3b9b00"/>
<rect x="288" y="426" width="18" height="8" fill="#359900"/>
<rect x="288" y="434" width="18" height="8" fill="#309700"/>
<rect x="288" y="442" width="18" height="8" fill="#1b9100"/>
<rect x="288" y="450" width="18" height="8" fill="#0b8b00"/>
<rect x="288" y="458" width="18" height="8" fill="#007f09"/>
<rect x="288" y="466" width="18" height="8" fill="#006e1a"/>
<rect x="288" y="474" width="18" height="8" fill="#005b2e"/>
<rect x="288" y="482" width="18" height="8" fill="#004c3d"/>
<rect x="288" y="490" width="18" height="8" fill="#003554"/>
<rect x="288" y="498" width="18" height="8" fill="#001e6b"/>
<rect x="288" y="506" width="18" height="8" fill="#000882"/>
<rect x="288" y="514" width="18" height="8" fill="#060083"/>
<rect x="288" y="522" width="18" height="8" fill="#120075"/>
<rect x="288" y="530" width="18" height="8" fill="#1e0068"/>
<rect x="288" y="538" width="18" height="8" fill="#2a005b"/>
<rect x="288" y="546" width="18" height="8" fill="#35004f"/>
<rect x="288" y="554" width="18" height="8" fill="#400042"/>
<rect x="288" y="562" width="18" height="8" fill="#39003b"/>
<rect x="288" y="570" width="18" height="8" fill="#320033"/>
<rect x="288" y="578" width="18" height="8" fill="#2b002c"/>
<rect x="288" y="586" width="18" height="8" fill="#250026"/>
<rect x="288" y="594" width="18" height="8" fill="#210022"/>
<rect x="288" y="602" width="18" height="8" fill="#1c001d"/>
<rect x="288" y="610" width="18" height="8" fill="#1b001c"/>
<rect x="288" y="618" width="18" height="8" fill="#19001a"/>
<rect x="288" y="626" width="18" height="8" fill="#180018"/>
<rect x="288" y="634" width="18" height="8" fill="#160017"/>
<rect x="288" y="642" width="18" height="8" fill="#150015"/>
<rect x="288" y="650" width="18" height="8" fill="#130014"/>
<rect x="288" y="658" width="18" height="8" fill="#110012"/>
<rect x="288" y="666" width="18" height="8" fill="#100010"/>
<rect x="288" y="674" width="18" height="8" fill="#0e000f"/>
<rect x="288" y="682" width="18" height="136" fill="#010001"/>
<rect x="306" y="170" width="18" height="8" fill="#3b003d"/>
<rect x="306" y="178" width="18" height="8" fill="#3d003f"/>
<rect x="306" y="186" width="18" height="8" fill="#400042"/>
<rect x="306" y="194" width="18" height="8" fill="#3f0043"/>
<rect x="306" y="202" width="18" height="8" fill="#3e0044"/>
<rect x="306" y="210" width="18" height="8" fill="#3e0045"/>
<rect x="306" y="218" width="18" height="8" fill="#3d0046"/>
<rect x="306" y="226" width="18" height="8" fill="#3c0046"/>
<rect x="306" y="234" width="18" height="8" fill="#3b0047"/>
<rect x="306" y="242" width="18" height="8" fill="#3a0048"/>
<rect x="306" y="250" width="18" height="8" fill="#3a0049"/>
<rect x="306" y="258" width="18" height="8" fill="#39004a"/>
<rect x="306" y="266" width="18" height="8" fill="#38004b"/>
<rect x="306" y="274" width="18" height="8" fill="#330050"/>
<rect x="306" y="282" width="18" height="8" fill="#300053"/>
<rect x="306" y="290" width="18" height="8" fill="#2e0057"/>
<rect x="306" y="298" width="18" height="8" fill="#2b005a"/>
<rect x="306" y="306" width="18" height="8" fill="#28005d"/>
<rect x="306" y="314" width="18" height="8" fill="#260060"/>
<rect x="306" y="322" width="18" height="8" fill="#1e0068"/>
<rect x="306" y="330" width="18" height="8" fill="#150073"/>
<rect x="306" y="338" width="18" height="8" fill="#0a007e"/>
<rect x="306" y="346" width="18" height="8" fill="#00008a"/>
<rect x="306" y="354" width="18" height="8" fill="#001b6e"/>
<rect x="306" y="362" width="18" height="8" fill="#003356"/>
<rect x="306" y="370" width="18" height="8" fill="#004c3d"/>
<rect x="306" y="378" width="18" height="8" fill="#005c2c"/>
<rect x="306" y="386" width="18" height="8" fill="#006a1f"/>
<rect x="306" y="394" width="18" height="8" fill="#00790f"/>
<rect x="306" y="402" width="18" height="8" fill="#008503"/>
<rect x="306" y="410" width="18" height="8" fill="#018800"/>
<rect x="306" y="418" width="18" height="8" fill="#088b00"/>
<rect x="306" y="426" width="18" height="8" fill="#048900"/>
<rect x="306" y="434" width="18" height="8" fill="#008800"/>
<rect x="306" y="442" width="18" height="8" fill="#00790f"/>
<rect x="306" y="450" width="18" height="8" fill="#006a1f"/>
<rect x="306" y="458" width="18" height="8" fill="#005b2e"/>
<rect x="306" y="466" width="18" height="8" fill="#004c3d"/>
<rect x="306" y="474" width="18" height="8" fill="#003653"/>
<rect x="306" y="482" width="18" height="8" fill="#002367"/>
<rect x="306" y="490" width="18" height="8" fill="#000f7b"/>
<rect x="306" y="498" width="18" height="8" fill="#010089"/>
<rect x="306" y="506" width="18" height="8" fill="#0b007d"/>
<rect x="306" y="514" width="18" height="8" fill="#1a006d"/>
<rect x="306" y="522" width="18" height="8" fill="#260060"/>
<rect x="306" y="530" width="18" height="8" fill="#340050"/>
<rect x="306" y="538" width="18" height="8" fill="#400042"/>
<rect x="306" y="546" width="18" height="8" fill="#370039"/>
<rect x="306" y="554" width="18" height="8" fill="#2e0030"/>
<rect x="306" y="562" width="18" height="8" fill="#270028"/>
<rect x="306" y="570" width="18" height="8" fill="#210022"/>
<rect x="306" y="578" width="18" height="8" fill="#1c001d"/>
<rect x="306" y="586" width="18" height="8" fill="#170018"/>
<rect x="306" y="594" width="18" height="8" fill="#160016"/>
<rect x="306" y="602" width="18" height="8" fill="#140015"/>
<rect x="306" y="610" width="18" height="8" fill="#130013"/>
<rect x="306" y="618" width="18" height="8" fill="#120012"/>
<rect x="306" y="626" width="18" height="8" fill="#100011"/>
<rect x="306" y="634" width="18" height="8" fill="#0f0010"/>
<rect x="306" y="642" width="18" height="8" fill="#0e000e"/>
<rect x="306" y="650" width="18" height="8" fill="#0d000d"/>
<rect x="306" y="658" width="18" height="8" fill="#0c000c"/>
<rect x="306" y="666" width="18" height="8" fill="#0a000b"/>
<rect x="306" y="674" width="18" height="8" fill="#09000a"/>
<rect x="306" y="682" width="18" height="136" fill="#010001"/>
<rect x="324" y="170" width="18" height="8" fill="#2b002c"/>
<rect x="324" y="178" width="18" height="8" fill="#300031"/>
<rect x="324" y="186" width="18" height="8" fill="#300032"/>
<rect x="324" y="194" width="18" height="8" fill="#310032"/>
<rect x="324" y="202" width="18" height="8" fill="#310033"/>
<rect x="324" y="210" width="18" height="8" fill="#320033"/>
<rect x="324" y="218" width="18" height="8" fill="#320034"/>
<rect x="324" y="226" width="18" height="8" fill="#330034"/>
<rect x="324" y="234" width="18" height="8" fill="#330035"/>
<rect x="324" y="242" width="18" height="8" fill="#340035"/>
<rect x="324" y="250" width="18" height="8" fill="#340036"/>
<rect x="324" y="258" width="18" height="8" fill="#350036"/>
<rect x="324" y="266" width="18" height="8" fill="#350037"/>
<rect x="324" y="274" width="18" height="8" fill="#360037"/>
<rect x="324" y="282" width="18" height="8" fill="#360038"/>
<rect x="324" y="290" width="18" height="8" fill="#370038"/>
<rect x="324" y="298" width="18" height="8" fill="#3d003f"/>
<rect x="324" y="306" width="18" height="8" fill="#3f0043"/>
<rect x="324" y="314" width="18" height="8" fill="#3c0047"/>
<rect x="324" y="322" width="18" height="8" fill="#38004b"/>
<rect x="324" y="330" width="18" height="8" fill="#300054"/>
<rect x="324" y="338" width="18" height="8" fill="#260060"/>
<rect x="324" y="346" width="18" height="8" fill="#1c006a"/>
<rect x="324" y="354" width="18" height="8" fill="#100078"/>
<rect x="324" y="362" width="18" height="8" fill="#050085"/>
<rect x="324" y="370" width="18" height="8" fill="#000c7e"/>
<rect x="324" y="378" width="18" height="8" fill="#001e6b"/>
<rect x="324" y="386" width="18" height="8" fill="#002762"/>
<rect x="324" y="394" width="18" height="8" fill="#003257"/>
<rect x="324" y="402" width="18" height="8" fill="#003e4b"/>
<rect x="324" y="410" width="18" height="8" fill="#004148"/>
<rect x="324" y="418" width="18" height="8" fill="#004445"/>
<rect x="324" y="426" width="18" height="8" fill="#004148"/>
<rect x="324" y="434" width="18" height="8" fill="#003e4b"/>
<rect x="324" y="442" width="18" height="8" fill="#003851"/>
<rect x="324" y="450" width="18" height="8" fill="#002a5f"/>
<rect x="324" y="458" width="18" height="8" fill="#001e6b"/>
<rect x="324" y="466" width="18" height="8" fill="#001179"/>
<rect x="324" y="474" width="18" height="8" fill="#000684"/>
<rect x="324" y="482" width="18" height="8" fill="#030086"/>
<rect x="324" y="490" width="18" height="8" fill="#0a007f"/>
<rect x="324" y="498" width="18" height="8" fill="#130074"/>
<rect x="324" y="506" width="18" height="8" fill="#1e0068"/>
<rect x="324" y="514" width="18" height="8" fill="#28005d"/>
<rect x="324" y="522" width="18" height="8" fill="#320051"/>
<rect x="324" y="530" width="18" height="8" fill="#3e0045"/>
<rect x="324" y="538" width="18" height="8" fill="#39003b"/>
<rect x="324" y="546" width="18" height="8" fill="#320033"/>
<rect x="324" y="554" width="18" height="8" fill="#2b002c"/>
<rect x="324" y="562" width="18" height="8" fill="#250026"/>
<rect x="324" y="570" width="18" height="8" fill="#200021"/>
<rect x="324" y="578" width="18" height="8" fill="#1b001c"/>
<rect x="324" y="586" width="18" height="8" fill="#150016"/>
<rect x="324" y="594" width="18" height="8" fill="#120012"/>
<rect x="324" y="602" width="18" height="8" fill="#0e000f"/>
<rect x="324" y="610" width="18" height="8" fill="#0d000e"/>
<rect x="324" y="618" width="18" height="8" fill="#0c000c"/>
<rect x="324" y="626" width="18" height="8" fill="#0b000b"/>
<rect x="324" y="634" width="18" height="8" fill="#0a000a"/>
<rect x="324" y="642" width="18" height="8" fill="#090009"/>
<rect x="324" y="650" width="18" height="8" fill="#080008"/>
<rect x="324" y="658" width="18" height="8" fill="#070007"/>
<rect x="324" y="666" width="18" height="8" fill="#060006"/>
<rect x="324" y="674" width="18" height="144" fill="#010001"/>
<rect x="342" y="170" width="18" height="16" fill="#1f0020"/>
<rect x="342" y="186" width="18" height="24" fill="#200021"/>
<rect x="342" y="210" width="18" height="16" fill="#210022"/>
<rect x="342" y="226" width="18" height="16" fill="#220023"/>
<rect x="342" y="242" width="18" height="16" fill="#230024"/>
<rect x="342" y="258" width="18" height="16" fill="#240025"/>
<rect x="342" y="274" width="18" height="16" fill="#250026"/>
<rect x="342" y="290" width="18" height="16" fill="#260027"/>
<rect x="342" y="306" width="18" height="16" fill="#270028"/>
<rect x="342" y="322" width="18" height="8" fill="#2f0030"/>
<rect x="342" y="330" width="18" height="8" fill="#39003b"/>
<rect x="342" y="338" width="18" height="8" fill="#3c0046"/>
<rect x="342" y="346" width="18" height="8" fill="#320052"/>
<rect x="342" y="354" width="18" height="8" fill="#28005d"/>
<rect x="342" y="362" width="18" height="8" fill="#200066"/>
<rect x="342" y="370" width="18" height="8" fill="#160071"/>
<rect x="342" y="378" width="18" height="8" fill="#0c007c"/>
<rect x="342" y="386" width="18" height="8" fill="#050085"/>
<rect x="342" y="394" width="18" height="8" fill="#00008a"/>
<rect x="342" y="402" width="18" height="8" fill="#000288"/>
<rect x="342" y="410" width="18" height="8" fill="#000486"/>
<rect x="342" y="418" width="18" height="8" fill="#000684"/>
<rect x="342" y="426" width="18" height="8" fill="#000882"/>
<rect x="342" y="434" width="18" height="8" fill="#000684"/>
<rect x="342" y="442" width="18" height="8" fill="#000585"/>
<rect x="342" y="450" width="18" height="8" fill="#000387"/>
<rect x="342" y="458" width="18" height="8" fill="#040086"/>
<rect x="342" y="466" width="18" height="8" fill="#0a007e"/>
<rect x="342" y="474" width="18" height="8" fill="#120075"/>
<rect x="342" y="482" width="18" height="8" fill="#1a006d"/>
<rect x="342" y="490" width="18" height="8" fill="#220064"/>
<rect x="342" y="498" width="18" height="8" fill="#2a005b"/>
<rect x="342" y="506" width="18" height="8" fill="#330050"/>
<rect x="342" y="514" width="18" height="8" fill="#3c0046"/>
<rect x="342" y="522" width="18" height="8" fill="#3d003f"/>
<rect x="342" y="530" width="18" height="8" fill="#370038"/>
<rect x="342" y="538" width="18" height="8" fill="#2e0030"/>
<rect x="342" y="546" width="18" height="8" fill="#270028"/>
<rect x="342" y="554" width="18" height="8" fill="#200021"/>
<rect x="342" y="562" width="18" height="8" fill="#1a001b"/>
<rect x="342" y="570" width="18" height="8" fill="#150016"/>
<rect x="342" y="578" width="18" height="8" fill="#110012"/>
<rect x="342" y="586" width="18" height="8" fill="#0d000d"/>
<rect x="342" y="594" width="18" height="8" fill="#0c000c"/>
<rect x="342" y="602" width="18" height="8" fill="#0b000b"/>
<rect x="342" y="610" width="18" height="8" fill="#0a000a"/>
<rect x="342" y="618" width="18" height="8" fill="#090009"/>
<rect x="342" y="626" width="18" height="8" fill="#070008"/>
<rect x="342" y="634" width="18" height="8" fill="#060007"/>
<rect x="342" y="642" width="18" height="8" fill="#050005"/>
<rect x="342" y="650" width="18" height="8" fill="#040004"/>
<rect x="342" y="658" width="18" height="160" fill="#010001"/>
<rect x="360" y="170" width="18" height="24" fill="#19001a"/>
<rect x="360" y="194" width="18" height="24" fill="#1a001b"/>
<rect x="360" y="218" width="18" height="24" fill="#1b001c"/>
<rect x="360" y="242" width="18" height="8" fill="#1c001c"/>
<rect x="360" y="250" width="18" height="24" fill="#1c001d"/>
<rect x="360" y="274" width="18" height="8" fill="#240025"/>
<rect x="360" y="282" width="18" height="8" fill="#250026"/>
<rect x="360" y="290" width="18" height="8" fill="#260027"/>
<rect x="360" y="298" width="18" height="8" fill="#270028"/>
<rect x="360" y="306" width="18" height="8" fill="#28002a"/>
<rect x="360" y="314" width="18" height="8" fill="#29002b"/>
<rect x="360" y="322" width="18" height="8" fill="#2b002c"/>
<rect x="360" y="330" width="18" height="8" fill="#320033"/>
<rect x="360" y="338" width="18" height="8" fill="#350037"/>
<rect x="360" y="346" width="18" height="8" fill="#3b003d"/>
<rect x="360" y="354" width="18" height="8" fill="#400042"/>
<rect x="360" y="362" width="18" height="8" fill="#38004b"/>
<rect x="360" y="370" width="18" height="8" fill="#2e0056"/>
<rect x="360" y="378" width="18" height="8" fill="#260060"/>
<rect x="360" y="386" width="18" height="8" fill="#1e0069"/>
<rect x="360" y="394" width="18" height="8" fill="#18006f"/>
<rect x="360" y="402" width="18" height="8" fill="#130074"/>
<rect x="360" y="410" width="18" height="8" fill="#120076"/>
<rect x="360" y="418" width="18" height="8" fill="#110077"/>
<rect x="360" y="426" width="18" height="8" fill="#100078"/>
<rect x="360" y="434" width="18" height="16" fill="#110077"/>
<rect x="360" y="450" width="18" height="8" fill="#120076"/>
<rect x="360" y="458" width="18" height="8" fill="#160071"/>
<rect x="360" y="466" width="18" height="8" fill="#1e0069"/>
<rect x="360" y="474" width="18" height="8" fill="#260060"/>
<rect x="360" y="482" width="18" height="8" fill="#2e0056"/>
<rect x="360" y="490" width="18" height="8" fill="#38004b"/>
<rect x="360" y="498" width="18" height="8" fill="#400042"/>
<rect x="360" y="506" width="18" height="8" fill="#3a003c"/>
<rect x="360" y="514" width="18" height="8" fill="#350036"/>
<rect x="360" y="522" width="18" height="8" fill="#2e0030"/>
<rect x="360" y="530" width="18" height="8" fill="#270028"/>
<rect x="360" y="538" width="18" height="8" fill="#200021"/>
<rect x="360" y="546" width="18" height="8" fill="#19001a"/>
<rect x="360" y="554" width="18" height="8" fill="#150016"/>
<rect x="360" y="562" width="18" height="8" fill="#120012"/>
<rect x="360" y="570" width="18" height="8" fill="#0f0010"/>
<rect x="360" y="578" width="18" height="8" fill="#0d000d"/>
<rect x="360" y="586" width="18" height="8" fill="#0b000b"/>
<rect x="360" y="594" width="18" height="8" fill="#0a000a"/>
<rect x="360" y="602" width="18" height="8" fill="#09000a"/>
<rect x="360" y="610" width="18" height="8" fill="#090009"/>
<rect x="360" y="618" width="18" height="8" fill="#080008"/>
<rect x="360" y="626" width="18" height="8" fill="#070007"/>
<rect x="360" y="634" width="18" height="8" fill="#060007"/>
<rect x="360" y="642" width="18" height="8" fill="#060006"/>
<rect x="360" y="650" width="18" height="32" fill="#050005"/>
<rect x="360" y="682" width="18" height="8" fill="#040005"/>
<rect x="360" y="690" width="18" height="48" fill="#040004"/>
<rect x="360" y="738" width="18" height="8" fill="#030004"/>
<rect x="360" y="746" width="18" height="48" fill="#030003"/>
<rect x="360" y="794" width="18" height="24" fill="#020002"/>
<rect x="378" y="170" width="18" height="136" fill="#150016"/>
<rect x="378" y="306" width="18" height="8" fill="#1c001d"/>
<rect x="378" y="314" width="18" height="8" fill="#200021"/>
<rect x="378" y="322" width="18" height="8" fill="#240025"/>
<rect x="378" y="330" width="18" height="8" fill="#270028"/>
<rect x="378" y="338" width="18" height="8" fill="#2b002c"/>
<rect x="378" y="346" width="18" height="8" fill="#2e002f"/>
<rect x="378" y="354" width="18" height="8" fill="#300032"/>
<rect x="378" y="362" width="18" height="8" fill="#370039"/>
<rect x="378" y="370" width="18" height="8" fill="#3e0040"/>
<rect x="378" y="378" width="18" height="8" fill="#3c0046"/>
<rect x="378" y="386" width="18" height="8" fill="#36004e"/>
<rect x="378" y="394" width="18" height="8" fill="#2e0056"/>
<rect x="378" y="402" width="18" height="16" fill="#28005d"/>
<rect x="378" y="418" width="18" height="16" fill="#27005e"/>
<rect x="378" y="434" width="18" height="16" fill="#26005f"/>
<rect x="378" y="450" width="18" height="8" fill="#260060"/>
<rect x="378" y="458" width="18" height="8" fill="#2c0058"/>
<rect x="378" y="466" width="18" height="8" fill="#320051"/>
<rect x="378" y="474" width="18" height="8" fill="#3a0048"/>
<rect x="378" y="482" width="18" height="8" fill="#400042"/>
<rect x="378" y="490" width="18" height="8" fill="#3a003c"/>
<rect x="378" y="498" width="18" height="8" fill="#350036"/>
<rect x="378" y="506" width="18" height="8" fill="#2e0030"/>
<rect x="378" y="514" width="18" height="8" fill="#280029"/>
<rect x="378" y="522" width="18" height="8" fill="#210022"/>
<rect x="378" y="530" width="18" height="8" fill="#1b001c"/>
<rect x="378" y="538" width="18" height="8" fill="#170017"/>
<rect x="378" y="546" width="18" height="8" fill="#120013"/>
<rect x="378" y="554" width="18" height="8" fill="#100011"/>
<rect x="378" y="562" width="18" height="8" fill="#0e000f"/>
<rect x="378" y="570" width="18" height="8" fill="#0c000c"/>
<rect x="378" y="586" width="18" height="8" fill="#0b000b"/>
<rect x="378" y="594" width="18" height="8" fill="#0a000a"/>
<rect x="378" y="602" width="18" height="8" fill="#09000a"/>
<rect x="378" y="610" width="18" height="8" fill="#090009"/>
<rect x="378" y="618" width="18" height="8" fill="#080008"/>
<rect x="378" y="626" width="18" height="8" fill="#070007"/>
<rect x="378" y="634" width="18" height="8" fill="#060007"/>
<rect x="378" y="642" width="18" height="8" fill="#060006"/>
<rect x="378" y="650" width="18" height="32" fill="#050005"/>
<rect x="378" y="682" width="18" height="8" fill="#040005"/>
<rect x="378" y="690" width="18" height="48" fill="#040004"/>
<rect x="378" y="738" width="18" height="8" fill="#030004"/>
<rect x="378" y="746" width="18" height="48" fill="#030003"/>
<rect x="378" y="794" width="18" height="24" fill="#020002"/>
<rect x="396" y="170" width="18" height="152" fill="#0e000f"/>
<rect x="396" y="322" width="18" height="8" fill="#150016"/>
<rect x="396" y="330" width="18" height="8" fill="#19001a"/>
<rect x="396" y="338" width="18" height="8" fill="#1c001d"/>
<rect x="396" y="346" width="18" height="8" fill="#200021"/>
<rect x="396" y="354" width="18" height="8" fill="#230024"/>
<rect x="396" y="362" width="18" height="8" fill="#260027"/>
<rect x="396" y="370" width="18" height="8" fill="#2b002c"/>
<rect x="396" y="378" width="18" height="8" fill="#320033"/>
<rect x="396" y="386" width="18" height="8" fill="#370039"/>
<rect x="396" y="394" width="18" height="8" fill="#3b003d"/>
<rect x="396" y="402" width="18" height="40" fill="#3f0041"/>
<rect x="396" y="442" width="18" height="24" fill="#400042"/>
<rect x="396" y="466" width="18" height="8" fill="#3d003f"/>
<rect x="396" y="474" width="18" height="8" fill="#39003b"/>
<rect x="396" y="482" width="18" height="8" fill="#330035"/>
<rect x="396" y="490" width="18" height="8" fill="#2e002f"/>
<rect x="396" y="498" width="18" height="8" fill="#280029"/>
<rect x="396" y="506" width="18" height="8" fill="#220023"/>
<rect x="396" y="514" width="18" height="8" fill="#1c001d"/>
<rect x="396" y="522" width="18" height="8" fill="#170018"/>
<rect x="396" y="530" width="18" height="8" fill="#130014"/>
<rect x="396" y="538" width="18" height="8" fill="#110011"/>
<rect x="396" y="546" width="18" height="8" fill="#0e000f"/>
<rect x="396" y="554" width="18" height="8" fill="#0d000d"/>
<rect x="396" y="562" width="18" height="8" fill="#0c000c"/>
<rect x="396" y="570" width="18" height="8" fill="#0b000b"/>
<rect x="396" y="578" width="18" height="8" fill="#0a000a"/>
<rect x="396" y="586" width="18" height="8" fill="#090009"/>
<rect x="396" y="594" width="18" height="8" fill="#080008"/>
<rect x="396" y="602" width="18" height="8" fill="#070008"/>
<rect x="396" y="610" width="18" height="8" fill="#070007"/>
<rect x="396" y="618" width="18" height="8" fill="#060007"/>
<rect x="396" y="626" width="18" height="8" fill="#060006"/>
<rect x="396" y="634" width="18" height="8" fill="#050006"/>
<rect x="396" y="642" width="18" height="8" fill="#050005"/>
<rect x="396" y="650" width="18" height="64" fill="#040004"/>
<rect x="396" y="714" width="18" height="8" fill="#030004"/>
<rect x="396" y="722" width="18" height="64" fill="#030003"/>
<rect x="396" y="786" width="18" height="8" fill="#020003"/>
<rect x="396" y="794" width="18" height="24" fill="#020002"/>
<rect x="414" y="170" width="18" height="24" fill="#0b000b"/>
<rect x="414" y="202" width="18" height="24" fill="#0c000c"/>
<rect x="414" y="226" width="18" height="8" fill="#0c000d"/>
<rect x="414" y="234" width="18" height="24" fill="#0d000d"/>
<rect x="414" y="258" width="18" height="8" fill="#0d000e"/>
<rect x="414" y="266" width="18" height="24" fill="#0e000e"/>
<rect x="414" y="290" width="18" height="16" fill="#0e000f"/>
<rect x="414" y="306" width="18" height="16" fill="#0f000f"/>
<rect x="414" y="322" width="18" height="16" fill="#0f0010"/>
<rect x="414" y="338" width="18" height="8" fill="#100010"/>
<rect x="414" y="346" width="18" height="8" fill="#120013"/>
<rect x="414" y="354" width="18" height="8" fill="#140015"/>
<rect x="414" y="362" width="18" height="8" fill="#170017"/>
<rect x="414" y="370" width="18" height="8" fill="#19001a"/>
<rect x="414" y="378" width="18" height="8" fill="#1f0020"/>
<rect x="414" y="386" width="18" height="8" fill="#250026"/>
<rect x="414" y="394" width="18" height="8" fill="#29002b"/>
<rect x="414" y="402" width="18" height="72" fill="#2e002f"/>
<rect x="414" y="474" width="18" height="8" fill="#2b002c"/>
<rect x="414" y="482" width="18" height="8" fill="#270028"/>
<rect x="414" y="490" width="18" height="8" fill="#240025"/>
<rect x="414" y="498" width="18" height="8" fill="#1e001f"/>
<rect x="414" y="506" width="18" height="8" fill="#1a001a"/>
<rect x="414" y="514" width="18" height="8" fill="#150016"/>
<rect x="414" y="522" width="18" height="8" fill="#130013"/>
<rect x="414" y="530" width="18" height="8" fill="#100011"/>
<rect x="414" y="538" width="18" height="8" fill="#0e000e"/>
<rect x="414" y="554" width="18" height="8" fill="#0b000b"/>
<rect x="414" y="562" width="18" height="8" fill="#0a000a"/>
<rect x="414" y="570" width="18" height="8" fill="#090009"/>
<rect x="414" y="578" width="18" height="8" fill="#080008"/>
<rect x="414" y="586" width="18" height="16" fill="#070007"/>
<rect x="414" y="602" width="18" height="16" fill="#060006"/>
<rect x="414" y="618" width="18" height="8" fill="#050006"/>
<rect x="414" y="626" width="18" height="8" fill="#050005"/>
<rect x="414" y="634" width="18" height="8" fill="#040005"/>
<rect x="414" y="642" width="18" height="16" fill="#040004"/>
<rect x="414" y="658" width="18" height="16" fill="#030004"/>
<rect x="414" y="674" width="18" height="96" fill="#030003"/>
<rect x="414" y="770" width="18" height="8" fill="#020003"/>
<rect x="414" y="778" width="18" height="40" fill="#020002"/>
<rect x="432" y="170" width="18" height="8" fill="#070007"/>
<rect x="432" y="178" width="18" height="16" fill="#070008"/>
<rect x="432" y="194" width="18" height="40" fill="#080008"/>
<rect x="432" y="234" width="18" height="8" fill="#080009"/>
<rect x="432" y="242" width="18" height="40" fill="#090009"/>
<rect x="432" y="282" width="18" height="8" fill="#09000a"/>
<rect x="432" y="290" width="18" height="40" fill="#0a000a"/>
<rect x="432" y="330" width="18" height="8" fill="#0a000b"/>
<rect x="432" y="338" width="18" height="16" fill="#0b000b"/>
<rect x="432" y="354" width="18" height="8" fill="#0d000e"/>
<rect x="432" y="362" width="18" height="8" fill="#100010"/>
<rect x="432" y="370" width="18" height="8" fill="#130013"/>
<rect x="432" y="378" width="18" height="8" fill="#150016"/>
<rect x="432" y="386" width="18" height="8" fill="#1c001d"/>
<rect x="432" y="394" width="18" height="88" fill="#240025"/>
<rect x="432" y="482" width="18" height="8" fill="#200021"/>
<rect x="432" y="490" width="18" height="8" fill="#1f0020"/>
<rect x="432" y="498" width="18" height="8" fill="#1d001e"/>
<rect x="432" y="506" width="18" height="8" fill="#1c001d"/>
<rect x="432" y="514" width="18" height="8" fill="#1a001b"/>
<rect x="432" y="522" width="18" height="8" fill="#19001a"/>
<rect x="432" y="530" width="18" height="8" fill="#170018"/>
<rect x="432" y="538" width="18" height="8" fill="#160017"/>
<rect x="432" y="546" width="18" height="8" fill="#150015"/>
<rect x="432" y="554" width="18" height="8" fill="#130014"/>
<rect x="432" y="562" width="18" height="8" fill="#120012"/>
<rect x="432" y="570" width="18" height="8" fill="#100011"/>
<rect x="432" y="578" width="18" height="8" fill="#0f000f"/>
<rect x="432" y="586" width="18" height="8" fill="#0e000e"/>
<rect x="432" y="594" width="18" height="8" fill="#0c000c"/>
<rect x="432" y="602" width="18" height="8" fill="#0b000b"/>
<rect x="432" y="610" width="18" height="8" fill="#0a000a"/>
<rect x="432" y="618" width="18" height="8" fill="#09000a"/>
<rect x="432" y="626" width="18" height="8" fill="#090009"/>
<rect x="432" y="634" width="18" height="8" fill="#080009"/>
<rect x="432" y="642" width="18" height="8" fill="#080008"/>
<rect x="432" y="650" width="18" height="32" fill="#070007"/>
<rect x="432" y="682" width="18" height="8" fill="#060007"/>
<rect x="432" y="690" width="18" height="40" fill="#060006"/>
<rect x="432" y="730" width="18" height="8" fill="#050006"/>
<rect x="432" y="738" width="18" height="32" fill="#050005"/>
<rect x="432" y="770" width="18" height="8" fill="#040005"/>
<rect x="432" y="778" width="18" height="40" fill="#040004"/>
<rect x="450" y="170" width="18" height="48" fill="#040004"/>
<rect x="450" y="218" width="18" height="40" fill="#050005"/>
<rect x="450" y="258" width="18" height="16" fill="#050006"/>
<rect x="450" y="274" width="18" height="40" fill="#060006"/>
<rect x="450" y="314" width="18" height="8" fill="#060007"/>
<rect x="450" y="322" width="18" height="32" fill="#070007"/>
<rect x="450" y="354" width="18" height="8" fill="#090009"/>
<rect x="450" y="362" width="18" height="8" fill="#0b000b"/>
<rect x="450" y="370" width="18" height="8" fill="#0c000d"/>
<rect x="450" y="378" width="18" height="8" fill="#0e000f"/>
<rect x="450" y="386" width="18" height="8" fill="#130014"/>
<rect x="450" y="394" width="18" height="8" fill="#180018"/>
<rect x="450" y="402" width="18" height="80" fill="#1c001d"/>
<rect x="450" y="482" width="18" height="8" fill="#1b001c"/>
<rect x="450" y="490" width="18" height="8" fill="#1a001b"/>
<rect x="450" y="498" width="18" height="8" fill="#19001a"/>
<rect x="450" y="506" width="18" height="8" fill="#180019"/>
<rect x="450" y="514" width="18" height="8" fill="#170018"/>
<rect x="450" y="522" width="18" height="8" fill="#160016"/>
<rect x="450" y="530" width="18" height="8" fill="#150015"/>
<rect x="450" y="538" width="18" height="8" fill="#140014"/>
<rect x="450" y="546" width="18" height="8" fill="#120013"/>
<rect x="450" y="554" width="18" height="8" fill="#110012"/>
<rect x="450" y="562" width="18" height="8" fill="#100011"/>
<rect x="450" y="570" width="18" height="8" fill="#0f0010"/>
<rect x="450" y="578" width="18" height="8" fill="#0e000e"/>
<rect x="450" y="586" width="18" height="8" fill="#0d000d"/>
<rect x="450" y="594" width="18" height="8" fill="#0c000c"/>
<rect x="450" y="602" width="18" height="8" fill="#0b000b"/>
<rect x="450" y="610" width="18" height="8" fill="#0a000a"/>
<rect x="450" y="618" width="18" height="8" fill="#09000a"/>
<rect x="450" y="626" width="18" height="8" fill="#090009"/>
<rect x="450" y="634" width="18" height="8" fill="#080009"/>
<rect x="450" y="642" width="18" height="8" fill="#080008"/>
<rect x="450" y="650" width="18" height="32" fill="#070007"/>
<rect x="450" y="682" width="18" height="8" fill="#060007"/>
<rect x="450" y="690" width="18" height="40" fill="#060006"/>
<rect x="450" y="730" width="18" height="8" fill="#050006"/>
<rect x="450" y="738" width="18" height="32" fill="#050005"/>
<rect x="450" y="770" width="18" height="8" fill="#040005"/>
<rect x="450" y="778" width="18" height="40" fill="#040004"/>
<rect x="468" y="170" width="18" height="48" fill="#040004"/>
<rect x="468" y="218" width="18" height="40" fill="#050005"/>
<rect x="468" y="258" width="18" height="16" fill="#050006"/>
<rect x="468" y="274" width="18" height="40" fill="#060006"/>
<rect x="468" y="314" width="18" height="8" fill="#060007"/>
<rect x="468" y="322" width="18" height="32" fill="#070007"/>
<rect x="468" y="354" width="18" height="8" fill="#080008"/>
<rect x="468" y="362" width="18" height="8" fill="#090009"/>
<rect x="468" y="370" width="18" height="8" fill="#0a000a"/>
<rect x="468" y="378" width="18" height="8" fill="#0b000b"/>
<rect x="468" y="386" width="18" height="8" fill="#0e000f"/>
<rect x="468" y="394" width="18" height="8" fill="#120012"/>
<rect x="468" y="402" width="18" height="8" fill="#150016"/>
<rect x="468" y="410" width="18" height="88" fill="#19001a"/>
<rect x="468" y="498" width="18" height="8" fill="#180019"/>
<rect x="468" y="506" width="18" height="8" fill="#170018"/>
<rect x="468" y="514" width="18" height="8" fill="#160017"/>
<rect x="468" y="522" width="18" height="8" fill="#150015"/>
<rect x="468" y="530" width="18" height="8" fill="#140014"/>
<rect x="468" y="538" width="18" height="8" fill="#130013"/>
<rect x="468" y="546" width="18" height="8" fill="#120012"/>
<rect x="468" y="554" width="18" height="8" fill="#110011"/>
<rect x="468" y="562" width="18" height="8" fill="#100010"/>
<rect x="468" y="570" width="18" height="8" fill="#0f000f"/>
<rect x="468" y="578" width="18" height="8" fill="#0e000e"/>
<rect x="468" y="586" width="18" height="8" fill="#0d000d"/>
<rect x="468" y="594" width="18" height="8" fill="#0c000c"/>
<rect x="468" y="602" width="18" height="8" fill="#0b000b"/>
<rect x="468" y="610" width="18" height="8" fill="#0a000a"/>
<rect x="468" y="618" width="18" height="8" fill="#09000a"/>
<rect x="468" y="626" width="18" height="8" fill="#090009"/>
<rect x="468" y="634" width="18" height="8" fill="#080009"/>
<rect x="468" y="642" width="18" height="8" fill="#080008"/>
<rect x="468" y="650" width="18" height="32" fill="#070007"/>
<rect x="468" y="682" width="18" height="8" fill="#060007"/>
<rect x="468" y="690" width="18" height="40" fill="#060006"/>
<rect x="468" y="730" width="18" height="8" fill="#050006"/>
<rect x="468" y="738" width="18" height="32" fill="#050005"/>
<rect x="468" y="770" width="18" height="8" fill="#040005"/>
<rect x="468" y="778" width="18" height="40" fill="#040004"/>
<rect x="486" y="170" width="18" height="32" fill="#0b000b"/>
<rect x="486" y="226" width="18" height="40" fill="#0c000c"/>
<rect x="486" y="266" width="18" height="16" fill="#0c000d"/>
<rect x="486" y="282" width="18" height="40" fill="#0d000d"/>
<rect x="486" y="322" width="18" height="24" fill="#0d000e"/>
<rect x="486" y="346" width="18" height="32" fill="#0e000e"/>
<rect x="486" y="378" width="18" height="16" fill="#0e000f"/>
<rect x="486" y="394" width="18" height="8" fill="#0f0010"/>
<rect x="486" y="402" width="18" height="8" fill="#110011"/>
<rect x="486" y="410" width="18" height="128" fill="#120012"/>
<rect x="486" y="538" width="18" height="8" fill="#110012"/>
<rect x="486" y="546" width="18" height="8" fill="#100011"/>
<rect x="486" y="554" width="18" height="8" fill="#0f0010"/>
<rect x="486" y="562" width="18" height="8" fill="#0f000f"/>
<rect x="486" y="570" width="18" height="8" fill="#0e000e"/>
<rect x="486" y="578" width="18" height="8" fill="#0d000d"/>
<rect x="486" y="586" width="18" height="8" fill="#0c000d"/>
<rect x="486" y="602" width="18" height="8" fill="#0b000b"/>
<rect x="486" y="610" width="18" height="8" fill="#0a000a"/>
<rect x="486" y="618" width="18" height="8" fill="#09000a"/>
<rect x="486" y="626" width="18" height="8" fill="#090009"/>
<rect x="486" y="634" width="18" height="8" fill="#080009"/>
<rect x="486" y="642" width="18" height="8" fill="#080008"/>
<rect x="486" y="650" width="18" height="32" fill="#070007"/>
<rect x="486" y="682" width="18" height="8" fill="#060007"/>
<rect x="486" y="690" width="18" height="40" fill="#060006"/>
<rect x="486" y="730" width="18" height="8" fill="#050006"/>
<rect x="486" y="738" width="18" height="32" fill="#050005"/>
<rect x="486" y="770" width="18" height="8" fill="#040005"/>
<rect x="486" y="778" width="18" height="40" fill="#040004"/>
<rect x="504" y="202" width="18" height="16" fill="#150016"/>
<rect x="504" y="218" width="18" height="16" fill="#160016"/>
<rect x="504" y="234" width="18" height="48" fill="#160017"/>
<rect x="504" y="282" width="18" height="16" fill="#170017"/>
<rect x="504" y="298" width="18" height="48" fill="#170018"/>
<rect x="504" y="346" width="18" height="16" fill="#180018"/>
<rect x="504" y="362" width="18" height="56" fill="#180019"/>
<rect x="504" y="418" width="18" height="24" fill="#180018"/>
<rect x="504" y="442" width="18" height="48" fill="#170018"/>
<rect x="504" y="490" width="18" height="8" fill="#170017"/>
<rect x="504" y="498" width="18" height="24" fill="#160017"/>
<rect x="504" y="522" width="18" height="8" fill="#160016"/>
<rect x="504" y="530" width="18" height="16" fill="#150016"/>
<rect x="504" y="546" width="18" height="8" fill="#150015"/>
<rect x="504" y="554" width="18" height="16" fill="#140015"/>
<rect x="504" y="570" width="18" height="8" fill="#140014"/>
<rect x="504" y="578" width="18" height="16" fill="#130014"/>
<rect x="504" y="594" width="18" height="8" fill="#130013"/>
<rect x="504" y="602" width="18" height="16" fill="#120013"/>
<rect x="504" y="618" width="18" height="8" fill="#120012"/>
<rect x="504" y="626" width="18" height="8" fill="#110012"/>
<rect x="504" y="634" width="18" height="16" fill="#110011"/>
<rect x="504" y="650" width="18" height="8" fill="#100011"/>
<rect x="504" y="658" width="18" height="8" fill="#100010"/>
<rect x="504" y="666" width="18" height="8" fill="#0f0010"/>
<rect x="504" y="674" width="18" height="16" fill="#0f000f"/>
<rect x="504" y="690" width="18" height="8" fill="#0e000f"/>
<rect x="504" y="698" width="18" height="8" fill="#0e000e"/>
<rect x="504" y="706" width="18" height="8" fill="#0d000e"/>
<rect x="504" y="714" width="18" height="16" fill="#0d000d"/>
<rect x="504" y="730" width="18" height="8" fill="#0c000d"/>
<rect x="504" y="738" width="18" height="8" fill="#0c000c"/>
<rect x="504" y="754" width="18" height="64" fill="#010001"/>
<rect x="522" y="218" width="18" height="8" fill="#270028"/>
<rect x="522" y="226" width="18" height="16" fill="#270029"/>
<rect x="522" y="242" width="18" height="32" fill="#280029"/>
<rect x="522" y="274" width="18" height="16" fill="#28002a"/>
<rect x="522" y="290" width="18" height="32" fill="#29002a"/>
<rect x="522" y="322" width="18" height="16" fill="#29002b"/>
<rect x="522" y="338" width="18" height="32" fill="#2a002b"/>
<rect x="522" y="370" width="18" height="16" fill="#2a002c"/>
<rect x="522" y="386" width="18" height="8" fill="#2b002c"/>
<rect x="522" y="394" width="18" height="8" fill="#2a002c"/>
<rect x="522" y="402" width="18" height="24" fill="#2a002b"/>
<rect x="522" y="426" width="18" height="8" fill="#29002b"/>
<rect x="522" y="434" width="18" height="16" fill="#29002a"/>
<rect x="522" y="450" width="18" height="8" fill="#28002a"/>
<rect x="522" y="458" width="18" height="24" fill="#280029"/>
<rect x="522" y="482" width="18" height="8" fill="#270029"/>
<rect x="522" y="490" width="18" height="24" fill="#270028"/>
<rect x="522" y="514" width="18" height="8" fill="#260028"/>
<rect x="522" y="522" width="18" height="24" fill="#260027"/>
<rect x="522" y="546" width="18" height="32" fill="#250026"/>
<rect x="522" y="578" width="18" height="32" fill="#240025"/>
<rect x="522" y="610" width="18" height="40" fill="#230024"/>
<rect x="522" y="650" width="18" height="8" fill="#220024"/>
<rect x="522" y="658" width="18" height="40" fill="#220023"/>
<rect x="522" y="698" width="18" height="48" fill="#210022"/>
<rect x="522" y="746" width="18" height="24" fill="#200021"/>
<rect x="522" y="770" width="18" height="48" fill="#010001"/>
<rect x="540" y="234" width="18" height="48" fill="#3e0040"/>
<rect x="540" y="282" width="18" height="64" fill="#3f0041"/>
<rect x="540" y="346" width="18" height="32" fill="#400042"/>
<rect x="540" y="378" width="18" height="8" fill="#3e0044"/>
<rect x="540" y="386" width="18" height="8" fill="#3c0047"/>
<rect x="540" y="394" width="18" height="8" fill="#3a0049"/>
<rect x="540" y="402" width="18" height="8" fill="#38004b"/>
<rect x="540" y="410" width="18" height="8" fill="#36004e"/>
<rect x="540" y="418" width="18" height="8" fill="#35004e"/>
<rect x="540" y="426" width="18" height="8" fill="#34004f"/>
<rect x="540" y="434" width="18" height="8" fill="#340050"/>
<rect x="540" y="442" width="18" height="8" fill="#330051"/>
<rect x="540" y="450" width="18" height="8" fill="#320052"/>
<rect x="540" y="458" width="18" height="8" fill="#310052"/>
<rect x="540" y="466" width="18" height="8" fill="#310053"/>
<rect x="540" y="474" width="18" height="8" fill="#300054"/>
<rect x="540" y="482" width="18" height="16" fill="#310053"/>
<rect x="540" y="498" width="18" height="8" fill="#320052"/>
<rect x="540" y="506" width="18" height="8" fill="#320051"/>
<rect x="540" y="514" width="18" height="8" fill="#330051"/>
<rect x="540" y="522" width="18" height="8" fill="#330050"/>
<rect x="540" y="530" width="18" height="8" fill="#340050"/>
<rect x="540" y="538" width="18" height="8" fill="#35004e"/>
<rect x="540" y="546" width="18" height="8" fill="#37004d"/>
<rect x="540" y="554" width="18" height="8" fill="#38004b"/>
<rect x="540" y="562" width="18" height="8" fill="#39004a"/>
<rect x="540" y="570" width="18" height="8" fill="#3a0048"/>
<rect x="540" y="578" width="18" height="8" fill="#3b0047"/>
<rect x="540" y="586" width="18" height="8" fill="#3c0046"/>
<rect x="540" y="594" width="18" height="8" fill="#3d0045"/>
<rect x="540" y="602" width="18" height="8" fill="#3e0044"/>
<rect x="540" y="610" width="18" height="8" fill="#3f0043"/>
<rect x="540" y="618" width="18" height="8" fill="#400042"/>
<rect x="540" y="626" width="18" height="16" fill="#3f0041"/>
<rect x="540" y="642" width="18" height="8" fill="#3e0040"/>
<rect x="540" y="650" width="18" height="8" fill="#3e003f"/>
<rect x="540" y="658" width="18" height="8" fill="#3d003f"/>
<rect x="540" y="666" width="18" height="8" fill="#3c003e"/>
<rect x="540" y="674" width="18" height="8" fill="#3c003d"/>
<rect x="540" y="682" width="18" height="8" fill="#3b003d"/>
<rect x="540" y="690" width="18" height="8" fill="#3a003c"/>
<rect x="540" y="698" width="18" height="8" fill="#3a003b"/>
<rect x="540" y="706" width="18" height="8" fill="#39003b"/>
<rect x="540" y="714" width="18" height="8" fill="#38003a"/>
<rect x="540" y="722" width="18" height="8" fill="#380039"/>
<rect x="540" y="730" width="18" height="8" fill="#370039"/>
<rect x="540" y="738" width="18" height="8" fill="#360038"/>
<rect x="540" y="746" width="18" height="8" fill="#360037"/>
<rect x="540" y="754" width="18" height="8" fill="#350037"/>
<rect x="540" y="762" width="18" height="8" fill="#340036"/>
<rect x="540" y="770" width="18" height="8" fill="#340035"/>
<rect x="540" y="778" width="18" height="8" fill="#330035"/>
<rect x="540" y="786" width="18" height="32" fill="#010001"/>
<rect x="558" y="250" width="18" height="8" fill="#2c0058"/>
<rect x="558" y="258" width="18" height="8" fill="#2b0059"/>
<rect x="558" y="266" width="18" height="8" fill="#2b005a"/>
<rect x="558" y="274" width="18" height="8" fill="#2a005b"/>
<rect x="558" y="282" width="18" height="8" fill="#29005c"/>
<rect x="558" y="290" width="18" height="16" fill="#28005d"/>
<rect x="558" y="306" width="18" height="8" fill="#27005e"/>
<rect x="558" y="314" width="18" height="8" fill="#26005f"/>
<rect x="558" y="322" width="18" height="8" fill="#260060"/>
<rect x="558" y="330" width="18" height="8" fill="#250061"/>
<rect x="558" y="338" width="18" height="8" fill="#230062"/>
<rect x="558" y="346" width="18" height="8" fill="#220064"/>
<rect x="558" y="354" width="18" height="8" fill="#200065"/>
<rect x="558" y="362" width="18" height="8" fill="#1f0067"/>
<rect x="558" y="370" width="18" height="8" fill="#1e0069"/>
<rect x="558" y="378" width="18" height="8" fill="#1c006b"/>
<rect x="558" y="386" width="18" height="8" fill="#1a006d"/>
<rect x="558" y="394" width="18" height="8" fill="#18006f"/>
<rect x="558" y="402" width="18" height="8" fill="#160071"/>
<rect x="558" y="410" width="18" height="8" fill="#140074"/>
<rect x="558" y="418" width="18" height="8" fill="#130074"/>
<rect x="558" y="426" width="18" height="8" fill="#130075"/>
<rect x="558" y="434" width="18" height="8" fill="#120076"/>
<rect x="558" y="442" width="18" height="8" fill="#110077"/>
<rect x="558" y="450" width="18" height="8" fill="#100077"/>
<rect x="558" y="458" width="18" height="8" fill="#100078"/>
<rect x="558" y="466" width="18" height="8" fill="#0f0079"/>
<rect x="558" y="474" width="18" height="8" fill="#0e007a"/>
<rect x="558" y="482" width="18" height="8" fill="#0f007a"/>
<rect x="558" y="490" width="18" height="24" fill="#0f0079"/>
<rect x="558" y="514" width="18" height="8" fill="#100079"/>
<rect x="558" y="522" width="18" height="16" fill="#100078"/>
<rect x="558" y="538" width="18" height="8" fill="#120076"/>
<rect x="558" y="546" width="18" height="8" fill="#130074"/>
<rect x="558" y="554" width="18" height="8" fill="#150073"/>
<rect x="558" y="562" width="18" height="8" fill="#160071"/>
<rect x="558" y="570" width="18" height="8" fill="#18006f"/>
<rect x="558" y="578" width="18" height="8" fill="#1a006d"/>
<rect x="558" y="586" width="18" height="8" fill="#1b006b"/>
<rect x="558" y="594" width="18" height="8" fill="#1d006a"/>
<rect x="558" y="602" width="18" height="8" fill="#1e0068"/>
<rect x="558" y="610" width="18" height="8" fill="#200066"/>
<rect x="558" y="618" width="18" height="8" fill="#220064"/>
<rect x="558" y="626" width="18" height="8" fill="#240062"/>
<rect x="558" y="634" width="18" height="8" fill="#260060"/>
<rect x="558" y="642" width="18" height="8" fill="#28005d"/>
<rect x="558" y="650" width="18" height="8" fill="#2a005b"/>
<rect x="558" y="658" width="18" height="8" fill="#2c0058"/>
<rect x="558" y="666" width="18" height="8" fill="#2e0056"/>
<rect x="558" y="674" width="18" height="8" fill="#300054"/>
<rect x="558" y="682" width="18" height="8" fill="#320051"/>
<rect x="558" y="690" width="18" height="8" fill="#34004f"/>
<rect x="558" y="698" width="18" height="8" fill="#36004d"/>
<rect x="558" y="706" width="18" height="8" fill="#37004c"/>
<rect x="558" y="714" width="18" height="8" fill="#38004b"/>
<rect x="558" y="722" width="18" height="8" fill="#39004a"/>
<rect x="558" y="730" width="18" height="8" fill="#3a0049"/>
<rect x="558" y="738" width="18" height="8" fill="#3a0048"/>
<rect x="558" y="746" width="18" height="8" fill="#3b0047"/>
<rect x="558" y="754" width="18" height="8" fill="#3c0046"/>
<rect x="558" y="762" width="18" height="8" fill="#3d0046"/>
<rect x="558" y="770" width="18" height="8" fill="#3e0045"/>
<rect x="558" y="778" width="18" height="8" fill="#3e0044"/>
<rect x="558" y="786" width="18" height="8" fill="#3f0043"/>
<rect x="558" y="794" width="18" height="8" fill="#400042"/>
<rect x="558" y="802" width="18" height="16" fill="#010001"/>
<rect x="576" y="266" width="18" height="8" fill="#1a006d"/>
<rect x="576" y="274" width="18" height="16" fill="#19006e"/>
<rect x="576" y="290" width="18" height="16" fill="#18006f"/>
<rect x="576" y="306" width="18" height="8" fill="#170070"/>
<rect x="576" y="314" width="18" height="8" fill="#170071"/>
<rect x="576" y="322" width="18" height="8" fill="#160071"/>
<rect x="576" y="330" width="18" height="8" fill="#160072"/>
<rect x="576" y="338" width="18" height="8" fill="#140074"/>
<rect x="576" y="346" width="18" height="8" fill="#120075"/>
<rect x="576" y="354" width="18" height="8" fill="#110077"/>
<rect x="576" y="362" width="18" height="8" fill="#0f0079"/>
<rect x="576" y="370" width="18" height="8" fill="#0e007b"/>
<rect x="576" y="378" width="18" height="8" fill="#090080"/>
<rect x="576" y="386" width="18" height="8" fill="#040086"/>
<rect x="576" y="394" width="18" height="8" fill="#020088"/>
<rect x="576" y="402" width="18" height="8" fill="#00008a"/>
<rect x="576" y="410" width="18" height="8" fill="#000387"/>
<rect x="576" y="418" width="18" height="8" fill="#000783"/>
<rect x="576" y="426" width="18" height="8" fill="#000b7f"/>
<rect x="576" y="434" width="18" height="8" fill="#000f7b"/>
<rect x="576" y="442" width="18" height="8" fill="#001278"/>
<rect x="576" y="450" width="18" height="8" fill="#001476"/>
<rect x="576" y="458" width="18" height="8" fill="#001673"/>
<rect x="576" y="466" width="18" height="8" fill="#001971"/>
<rect x="576" y="474" width="18" height="80" fill="#001b6e"/>
<rect x="576" y="554" width="18" height="8" fill="#001772"/>
<rect x="576" y="562" width="18" height="8" fill="#001377"/>
<rect x="576" y="570" width="18" height="8" fill="#000f7b"/>
<rect x="576" y="578" width="18" height="8" fill="#000c7d"/>
<rect x="576" y="586" width="18" height="8" fill="#000a80"/>
<rect x="576" y="594" width="18" height="8" fill="#000783"/>
<rect x="576" y="602" width="18" height="8" fill="#000585"/>
<rect x="576" y="610" width="18" height="8" fill="#00008a"/>
<rect x="576" y="618" width="18" height="8" fill="#060084"/>
<rect x="576" y="626" width="18" height="8" fill="#080081"/>
<rect x="576" y="634" width="18" height="8" fill="#0a007f"/>
<rect x="576" y="642" width="18" height="8" fill="#0c007d"/>
<rect x="576" y="650" width="18" height="8" fill="#0e007b"/>
<rect x="576" y="658" width="18" height="8" fill="#100078"/>
<rect x="576" y="666" width="18" height="8" fill="#120076"/>
<rect x="576" y="674" width="18" height="8" fill="#140074"/>
<rect x="576" y="682" width="18" height="8" fill="#160072"/>
<rect x="576" y="690" width="18" height="8" fill="#19006e"/>
<rect x="576" y="698" width="18" height="8" fill="#1c006b"/>
<rect x="576" y="706" width="18" height="8" fill="#1f0068"/>
<rect x="576" y="714" width="18" height="8" fill="#220064"/>
<rect x="576" y="722" width="18" height="8" fill="#250061"/>
<rect x="576" y="730" width="18" height="8" fill="#28005d"/>
<rect x="576" y="738" width="18" height="8" fill="#2b005a"/>
<rect x="576" y="746" width="18" height="8" fill="#2e0057"/>
<rect x="576" y="754" width="18" height="8" fill="#310053"/>
<rect x="576" y="762" width="18" height="8" fill="#340050"/>
<rect x="576" y="770" width="18" height="8" fill="#37004d"/>
<rect x="576" y="778" width="18" height="8" fill="#3a0049"/>
<rect x="576" y="786" width="18" height="8" fill="#3c0047"/>
<rect x="576" y="794" width="18" height="8" fill="#3e0044"/>
<rect x="576" y="802" width="18" height="8" fill="#400042"/>
<rect x="576" y="810" width="18" height="8" fill="#3e0040"/>
<rect x="594" y="282" width="18" height="16" fill="#040086"/>
<rect x="594" y="298" width="18" height="8" fill="#030087"/>
<rect x="594" y="306" width="18" height="8" fill="#020087"/>
<rect x="594" y="314" width="18" height="16" fill="#020088"/>
<rect x="594" y="330" width="18" height="8" fill="#010089"/>
<rect x="594" y="338" width="18" height="8" fill="#000089"/>
<rect x="594" y="346" width="18" height="8" fill="#00008a"/>
<rect x="594" y="354" width="18" height="8" fill="#000288"/>
<rect x="594" y="362" width="18" height="8" fill="#000486"/>
<rect x="594" y="370" width="18" height="8" fill="#000684"/>
<rect x="594" y="378" width="18" height="8" fill="#000882"/>
<rect x="594" y="386" width="18" height="8" fill="#001278"/>
<rect x="594" y="394" width="18" height="8" fill="#001476"/>
<rect x="594" y="402" width="18" height="8" fill="#001575"/>
<rect x="594" y="410" width="18" height="8" fill="#001773"/>
<rect x="594" y="418" width="18" height="8" fill="#002168"/>
<rect x="594" y="426" width="18" height="8" fill="#002466"/>
<rect x="594" y="434" width="18" height="8" fill="#002664"/>
<rect x="594" y="442" width="18" height="8" fill="#003059"/>
<rect x="594" y="450" width="18" height="8" fill="#003257"/>
<rect x="594" y="458" width="18" height="8" fill="#003455"/>
<rect x="594" y="466" width="18" height="8" fill="#003653"/>
<rect x="594" y="474" width="18" height="8" fill="#003c4d"/>
<rect x="594" y="482" width="18" height="8" fill="#003d4c"/>
<rect x="594" y="490" width="18" height="8" fill="#003e4b"/>
<rect x="594" y="498" width="18" height="8" fill="#003f4a"/>
<rect x="594" y="506" width="18" height="8" fill="#004049"/>
<rect x="594" y="514" width="18" height="8" fill="#004148"/>
<rect x="594" y="522" width="18" height="8" fill="#004247"/>
<rect x="594" y="530" width="18" height="16" fill="#004346"/>
<rect x="594" y="546" width="18" height="16" fill="#004445"/>
<rect x="594" y="562" width="18" height="8" fill="#004247"/>
<rect x="594" y="570" width="18" height="8" fill="#003f4a"/>
<rect x="594" y="578" width="18" height="8" fill="#003c4d"/>
<rect x="594" y="586" width="18" height="8" fill="#003950"/>
<rect x="594" y="594" width="18" height="8" fill="#003653"/>
<rect x="594" y="602" width="18" height="8" fill="#003356"/>
<rect x="594" y="610" width="18" height="8" fill="#001e6b"/>
<rect x="594" y="618" width="18" height="8" fill="#001278"/>
<rect x="594" y="626" width="18" height="8" fill="#000981"/>
<rect x="594" y="634" width="18" height="8" fill="#00008a"/>
<rect x="594" y="642" width="18" height="8" fill="#030087"/>
<rect x="594" y="650" width="18" height="8" fill="#060084"/>
<rect x="594" y="658" width="18" height="8" fill="#070082"/>
<rect x="594" y="666" width="18" height="8" fill="#090080"/>
<rect x="594" y="674" width="18" height="8" fill="#0b007d"/>
<rect x="594" y="682" width="18" height="8" fill="#0e007a"/>
<rect x="594" y="690" width="18" height="8" fill="#110077"/>
<rect x="594" y="698" width="18" height="8" fill="#130074"/>
<rect x="594" y="706" width="18" height="8" fill="#170070"/>
<rect x="594" y="714" width="18" height="8" fill="#1a006d"/>
<rect x="594" y="722" width="18" height="8" fill="#1e0069"/>
<rect x="594" y="730" width="18" height="8" fill="#210065"/>
<rect x="594" y="738" width="18" height="8" fill="#240062"/>
<rect x="594" y="746" width="18" height="8" fill="#27005e"/>
<rect x="594" y="754" width="18" height="8" fill="#2b005a"/>
<rect x="594" y="762" width="18" height="8" fill="#2e0056"/>
<rect x="594" y="770" width="18" height="8" fill="#320052"/>
<rect x="594" y="778" width="18" height="8" fill="#35004f"/>
<rect x="594" y="786" width="18" height="8" fill="#38004b"/>
<rect x="594" y="794" width="18" height="8" fill="#3b0047"/>
<rect x="594" y="802" width="18" height="8" fill="#3d0046"/>
<rect x="594" y="810" width="18" height="8" fill="#3e0044"/>
<rect x="612" y="290" width="18" height="8" fill="#00008a"/>
<rect x="612" y="298" width="18" height="8" fill="#000189"/>
<rect x="612" y="306" width="18" height="8" fill="#000288"/>
<rect x="612" y="314" width="18" height="8" fill="#000387"/>
<rect x="612" y="322" width="18" height="8" fill="#001476"/>
<rect x="612" y="330" width="18" height="8" fill="#001674"/>
<rect x="612" y="338" width="18" height="8" fill="#001971"/>
<rect x="612" y="346" width="18" height="8" fill="#001b6e"/>
<rect x="612" y="354" width="18" height="8" fill="#002664"/>
<rect x="612" y="362" width="18" height="8" fill="#002b5f"/>
<rect x="612" y="370" width="18" height="8" fill="#00305a"/>
<rect x="612" y="378" width="18" height="8" fill="#003555"/>
<rect x="612" y="386" width="18" height="8" fill="#003950"/>
<rect x="612" y="394" width="18" height="8" fill="#003b4e"/>
<rect x="612" y="402" width="18" height="8" fill="#003d4c"/>
<rect x="612" y="410" width="18" height="8" fill="#003f4a"/>
<rect x="612" y="418" width="18" height="8" fill="#004c3d"/>
<rect x="612" y="426" width="18" height="8" fill="#004e3b"/>
<rect x="612" y="434" width="18" height="8" fill="#005039"/>
<rect x="612" y="442" width="18" height="8" fill="#005236"/>
<rect x="612" y="450" width="18" height="8" fill="#005534"/>
<rect x="612" y="458" width="18" height="8" fill="#005f29"/>
<rect x="612" y="466" width="18" height="8" fill="#006028"/>
<rect x="612" y="474" width="18" height="8" fill="#006127"/>
<rect x="612" y="482" width="18" height="8" fill="#006226"/>
<rect x="612" y="490" width="18" height="8" fill="#006425"/>
<rect x="612" y="498" width="18" height="8" fill="#006524"/>
<rect x="612" y="506" width="18" height="8" fill="#006623"/>
<rect x="612" y="514" width="18" height="8" fill="#006722"/>
<rect x="612" y="522" width="18" height="8" fill="#006821"/>
<rect x="612" y="530" width="18" height="8" fill="#006920"/>
<rect x="612" y="538" width="18" height="8" fill="#006a1e"/>
<rect x="612" y="546" width="18" height="8" fill="#006b1d"/>
<rect x="612" y="554" width="18" height="8" fill="#006c1c"/>
<rect x="612" y="562" width="18" height="8" fill="#006d1b"/>
<rect x="612" y="570" width="18" height="8" fill="#006e1a"/>
<rect x="612" y="578" width="18" height="8" fill="#006e1b"/>
<rect x="612" y="586" width="18" height="8" fill="#006d1b"/>
<rect x="612" y="594" width="18" height="8" fill="#006d1c"/>
<rect x="612" y="602" width="18" height="8" fill="#006425"/>
<rect x="612" y="610" width="18" height="8" fill="#005b2e"/>
<rect x="612" y="618" width="18" height="8" fill="#005039"/>
<rect x="612" y="626" width="18" height="8" fill="#003f4a"/>
<rect x="612" y="634" width="18" height="8" fill="#002762"/>
<rect x="612" y="642" width="18" height="8" fill="#001476"/>
<rect x="612" y="650" width="18" height="8" fill="#00008a"/>
<rect x="612" y="658" width="18" height="8" fill="#060083"/>
<rect x="612" y="666" width="18" height="8" fill="#050085"/>
<rect x="612" y="674" width="18" height="8" fill="#070082"/>
<rect x="612" y="682" width="18" height="8" fill="#0a007f"/>
<rect x="612" y="690" width="18" height="8" fill="#0c007c"/>
<rect x="612" y="698" width="18" height="8" fill="#0f0079"/>
<rect x="612" y="706" width="18" height="8" fill="#120075"/>
<rect x="612" y="714" width="18" height="8" fill="#160072"/>
<rect x="612" y="722" width="18" height="8" fill="#19006e"/>
<rect x="612" y="730" width="18" height="8" fill="#1c006a"/>
<rect x="612" y="738" width="18" height="8" fill="#1f0067"/>
<rect x="612" y="746" width="18" height="8" fill="#220063"/>
<rect x="612" y="754" width="18" height="8" fill="#260060"/>
<rect x="612" y="762" width="18" height="8" fill="#29005c"/>
<rect x="612" y="770" width="18" height="8" fill="#2c0058"/>
<rect x="612" y="778" width="18" height="8" fill="#300054"/>
<rect x="612" y="786" width="18" height="8" fill="#330050"/>
<rect x="612" y="794" width="18" height="8" fill="#36004d"/>
<rect x="612" y="802" width="18" height="8" fill="#39004a"/>
<rect x="612" y="810" width="18" height="8" fill="#3c0046"/>
<rect x="630" y="298" width="18" height="8" fill="#000585"/>
<rect x="630" y="306" width="18" height="8" fill="#000684"/>
<rect x="630" y="314" width="18" height="8" fill="#000882"/>
<rect x="630" y="322" width="18" height="8" fill="#001871"/>
<rect x="630" y="330" width="18" height="8" fill="#001b6e"/>
<rect x="630" y="338" width="18" height="8" fill="#001e6b"/>
<rect x="630" y="346" width="18" height="8" fill="#002a5f"/>
<rect x="630" y="354" width="18" height="8" fill="#002d5c"/>
<rect x="630" y="362" width="18" height="8" fill="#003059"/>
<rect x="630" y="370" width="18" height="8" fill="#003356"/>
<rect x="630" y="378" width="18" height="8" fill="#003653"/>
<rect x="630" y="386" width="18" height="8" fill="#003950"/>
<rect x="630" y="394" width="18" height="8" fill="#003a4f"/>
<rect x="630" y="402" width="18" height="8" fill="#003b4e"/>
<rect x="630" y="410" width="18" height="8" fill="#003c4d"/>
<rect x="630" y="418" width="18" height="8" fill="#004742"/>
<rect x="630" y="426" width="18" height="8" fill="#004940"/>
<rect x="630" y="434" width="18" height="8" fill="#004c3d"/>
<rect x="630" y="442" width="18" height="8" fill="#005f29"/>
<rect x="630" y="450" width="18" height="8" fill="#006326"/>
<rect x="630" y="458" width="18" height="8" fill="#006722"/>
<rect x="630" y="466" width="18" height="8" fill="#007315"/>
<rect x="630" y="474" width="18" height="8" fill="#007513"/>
<rect x="630" y="482" width="18" height="8" fill="#007711"/>
<rect x="630" y="490" width="18" height="8" fill="#008008"/>
<rect x="630" y="498" width="18" height="24" fill="#008107"/>
<rect x="630" y="522" width="18" height="24" fill="#008206"/>
<rect x="630" y="546" width="18" height="8" fill="#008306"/>
<rect x="630" y="554" width="18" height="24" fill="#008305"/>
<rect x="630" y="578" width="18" height="8" fill="#008800"/>
<rect x="630" y="586" width="18" height="8" fill="#038900"/>
<rect x="630" y="594" width="18" height="8" fill="#058a00"/>
<rect x="630" y="602" width="18" height="8" fill="#088b00"/>
<rect x="630" y="610" width="18" height="8" fill="#048900"/>
<rect x="630" y="618" width="18" height="8" fill="#008701"/>
<rect x="630" y="626" width="18" height="8" fill="#008503"/>
<rect x="630" y="634" width="18" height="8" fill="#007d0b"/>
<rect x="630" y="642" width="18" height="8" fill="#006e1a"/>
<rect x="630" y="650" width="18" height="8" fill="#005039"/>
<rect x="630" y="658" width="18" height="8" fill="#002d5c"/>
<rect x="630" y="666" width="18" height="8" fill="#000f7b"/>
<rect x="630" y="674" width="18" height="8" fill="#00008a"/>
<rect x="630" y="682" width="18" height="8" fill="#050085"/>
<rect x="630" y="690" width="18" height="8" fill="#070082"/>
<rect x="630" y="698" width="18" height="8" fill="#0a007f"/>
<rect x="630" y="706" width="18" height="8" fill="#0d007b"/>
<rect x="630" y="714" width="18" height="8" fill="#110077"/>
<rect x="630" y="722" width="18" height="8" fill="#140074"/>
<rect x="630" y="730" width="18" height="8" fill="#170070"/>
<rect x="630" y="738" width="18" height="8" fill="#1a006c"/>
<rect x="630" y="746" width="18" height="8" fill="#1e0069"/>
<rect x="630" y="754" width="18" height="8" fill="#210065"/>
<rect x="630" y="762" width="18" height="8" fill="#240062"/>
<rect x="630" y="770" width="18" height="8" fill="#27005e"/>
<rect x="630" y="778" width="18" height="8" fill="#2b005a"/>
<rect x="630" y="786" width="18" height="8" fill="#2e0056"/>
<rect x="630" y="794" width="18" height="8" fill="#320052"/>
<rect x="630" y="802" width="18" height="8" fill="#35004e"/>
<rect x="630" y="810" width="18" height="8" fill="#39004a"/>
<rect x="648" y="298" width="18" height="8" fill="#000585"/>
<rect x="648" y="306" width="18" height="8" fill="#000882"/>
<rect x="648" y="314" width="18" height="8" fill="#001773"/>
<rect x="648" y="322" width="18" height="8" fill="#001a70"/>
<rect x="648" y="330" width="18" height="8" fill="#001d6d"/>
<rect x="648" y="338" width="18" height="8" fill="#002762"/>
<rect x="648" y="346" width="18" height="8" fill="#002861"/>
<rect x="648" y="354" width="18" height="8" fill="#002960"/>
<rect x="648" y="362" width="18" height="8" fill="#002a5f"/>
<rect x="648" y="370" width="18" height="8" fill="#002b5e"/>
<rect x="648" y="378" width="18" height="8" fill="#002c5d"/>
<rect x="648" y="386" width="18" height="8" fill="#002d5c"/>
<rect x="648" y="394" width="18" height="8" fill="#002b5f"/>
<rect x="648" y="402" width="18" height="8" fill="#002861"/>
<rect x="648" y="410" width="18" height="8" fill="#002664"/>
<rect x="648" y="418" width="18" height="8" fill="#003554"/>
<rect x="648" y="426" width="18" height="8" fill="#003950"/>
<rect x="648" y="434" width="18" height="8" fill="#003c4d"/>
<rect x="648" y="442" width="18" height="16" fill="#005336"/>
<rect x="648" y="458" width="18" height="16" fill="#006a1f"/>
<rect x="648" y="474" width="18" height="24" fill="#008008"/>
<rect x="648" y="498" width="18" height="8" fill="#008800"/>
<rect x="648" y="506" width="18" height="8" fill="#028900"/>
<rect x="648" y="514" width="18" height="8" fill="#048900"/>
<rect x="648" y="522" width="18" height="8" fill="#068a00"/>
<rect x="648" y="530" width="18" height="8" fill="#088b00"/>
<rect x="648" y="538" width="18" height="8" fill="#0a8b00"/>
<rect x="648" y="546" width="18" height="8" fill="#0c8c00"/>
<rect x="648" y="554" width="18" height="8" fill="#0e8d00"/>
<rect x="648" y="562" width="18" height="8" fill="#108d00"/>
<rect x="648" y="570" width="18" height="8" fill="#128e00"/>
<rect x="648" y="578" width="18" height="8" fill="#158f00"/>
<rect x="648" y="586" width="18" height="8" fill="#178f00"/>
<rect x="648" y="594" width="18" height="8" fill="#199000"/>
<rect x="648" y="602" width="18" height="8" fill="#1b9100"/>
<rect x="648" y="610" width="18" height="8" fill="#189000"/>
<rect x="648" y="618" width="18" height="8" fill="#158f00"/>
<rect x="648" y="626" width="18" height="8" fill="#138e00"/>
<rect x="648" y="634" width="18" height="8" fill="#108d00"/>
<rect x="648" y="642" width="18" height="8" fill="#0d8c00"/>
<rect x="648" y="650" width="18" height="8" fill="#008800"/>
<rect x="648" y="658" width="18" height="8" fill="#00790f"/>
<rect x="648" y="666" width="18" height="8" fill="#005f29"/>
<rect x="648" y="674" width="18" height="8" fill="#003257"/>
<rect x="648" y="682" width="18" height="8" fill="#000f7b"/>
<rect x="648" y="690" width="18" height="8" fill="#00008a"/>
<rect x="648" y="698" width="18" height="8" fill="#060084"/>
<rect x="648" y="706" width="18" height="8" fill="#0a007e"/>
<rect x="648" y="714" width="18" height="8" fill="#0e007a"/>
<rect x="648" y="722" width="18" height="8" fill="#130074"/>
<rect x="648" y="730" width="18" height="8" fill="#18006f"/>
<rect x="648" y="738" width="18" height="8" fill="#1b006b"/>
<rect x="648" y="746" width="18" height="8" fill="#1e0068"/>
<rect x="648" y="754" width="18" height="8" fill="#220063"/>
<rect x="648" y="762" width="18" height="8" fill="#26005f"/>
<rect x="648" y="770" width="18" height="8" fill="#2b0059"/>
<rect x="648" y="778" width="18" height="8" fill="#300054"/>
<rect x="648" y="786" width="18" height="8" fill="#340050"/>
<rect x="648" y="794" width="18" height="8" fill="#38004b"/>
<rect x="648" y="802" width="18" height="8" fill="#3a0049"/>
<rect x="648" y="810" width="18" height="8" fill="#3c0046"/>
<rect x="666" y="290" width="18" height="8" fill="#000585"/>
<rect x="666" y="298" width="18" height="8" fill="#000882"/>
<rect x="666" y="306" width="18" height="8" fill="#001773"/>
<rect x="666" y="314" width="18" height="8" fill="#001971"/>
<rect x="666" y="322" width="18" height="8" fill="#001b6e"/>
<rect x="666" y="330" width="18" height="16" fill="#002465"/>
<rect x="666" y="346" width="18" height="24" fill="#002565"/>
<rect x="666" y="370" width="18" height="24" fill="#002564"/>
<rect x="666" y="394" width="18" height="16" fill="#002664"/>
<rect x="666" y="410" width="18" height="8" fill="#002d5c"/>
<rect x="666" y="418" width="18" height="8" fill="#00305a"/>
<rect x="666" y="426" width="18" height="8" fill="#003257"/>
<rect x="666" y="434" width="18" height="8" fill="#003f4a"/>
<rect x="666" y="442" width="18" height="8" fill="#005b2e"/>
<rect x="666" y="450" width="18" height="8" fill="#007315"/>
<rect x="666" y="458" width="18" height="8" fill="#008800"/>
<rect x="666" y="466" width="18" height="8" fill="#158f00"/>
<rect x="666" y="474" width="18" height="8" fill="#209200"/>
<rect x="666" y="482" width="18" height="8" fill="#2d9700"/>
<rect x="666" y="490" width="18" height="8" fill="#319800"/>
<rect x="666" y="498" width="18" height="8" fill="#359900"/>
<rect x="666" y="506" width="18" height="8" fill="#439d00"/>
<rect x="666" y="514" width="18" height="40" fill="#429d00"/>
<rect x="666" y="554" width="18" height="32" fill="#419d00"/>
<rect x="666" y="586" width="18" height="16" fill="#409d00"/>
<rect x="666" y="602" width="18" height="8" fill="#409c00"/>
<rect x="666" y="610" width="18" height="8" fill="#3f9c00"/>
<rect x="666" y="618" width="18" height="8" fill="#3e9c00"/>
<rect x="666" y="626" width="18" height="8" fill="#3d9b00"/>
<rect x="666" y="634" width="18" height="8" fill="#3c9b00"/>
<rect x="666" y="642" width="18" height="8" fill="#3b9b00"/>
<rect x="666" y="650" width="18" height="8" fill="#309700"/>
<rect x="666" y="658" width="18" height="8" fill="#0b8b00"/>
<rect x="666" y="666" width="18" height="8" fill="#00790f"/>
<rect x="666" y="674" width="18" height="8" fill="#005534"/>
<rect x="666" y="682" width="18" height="8" fill="#002d5c"/>
<rect x="666" y="690" width="18" height="8" fill="#000981"/>
<rect x="666" y="698" width="18" height="8" fill="#020088"/>
<rect x="666" y="706" width="18" height="8" fill="#060083"/>
<rect x="666" y="714" width="18" height="8" fill="#0c007c"/>
<rect x="666" y="722" width="18" height="8" fill="#100078"/>
<rect x="666" y="730" width="18" height="8" fill="#150073"/>
<rect x="666" y="738" width="18" height="8" fill="#19006e"/>
<rect x="666" y="746" width="18" height="8" fill="#1d006a"/>
<rect x="666" y="754" width="18" height="8" fill="#210065"/>
<rect x="666" y="762" width="18" height="8" fill="#250061"/>
<rect x="666" y="770" width="18" height="8" fill="#29005c"/>
<rect x="666" y="778" width="18" height="8" fill="#2d0058"/>
<rect x="666" y="786" width="18" height="8" fill="#310053"/>
<rect x="666" y="794" width="18" height="8" fill="#35004f"/>
<rect x="666" y="802" width="18" height="8" fill="#37004c"/>
<rect x="666" y="810" width="18" height="8" fill="#3a0049"/>
<rect x="684" y="282" width="18" height="8" fill="#001773"/>
<rect x="684" y="290" width="18" height="8" fill="#001d6d"/>
<rect x="684" y="298" width="18" height="8" fill="#002a5f"/>
<rect x="684" y="306" width="18" height="8" fill="#002b5e"/>
<rect x="684" y="314" width="18" height="8" fill="#002c5e"/>
<rect x="684" y="322" width="18" height="8" fill="#002c5d"/>
<rect x="684" y="330" width="18" height="8" fill="#002d5c"/>
<rect x="684" y="338" width="18" height="8" fill="#002e5c"/>
<rect x="684" y="346" width="18" height="8" fill="#002e5b"/>
<rect x="684" y="354" width="18" height="8" fill="#002f5a"/>
<rect x="684" y="362" width="18" height="16" fill="#003059"/>
<rect x="684" y="378" width="18" height="8" fill="#003158"/>
<rect x="684" y="386" width="18" height="16" fill="#003257"/>
<rect x="684" y="402" width="18" height="8" fill="#003654"/>
<rect x="684" y="410" width="18" height="8" fill="#003950"/>
<rect x="684" y="418" width="18" height="8" fill="#004148"/>
<rect x="684" y="426" width="18" height="8" fill="#005b2e"/>
<rect x="684" y="434" width="18" height="8" fill="#00790f"/>
<rect x="684" y="442" width="18" height="8" fill="#088b00"/>
<rect x="684" y="450" width="18" height="8" fill="#2b9600"/>
<rect x="684" y="458" width="18" height="8" fill="#55a300"/>
<rect x="684" y="466" width="18" height="8" fill="#68a900"/>
<rect x="684" y="474" width="18" height="24" fill="#6dab00"/>
<rect x="684" y="498" width="18" height="8" fill="#6cab00"/>
<rect x="684" y="506" width="18" height="8" fill="#6caa00"/>
<rect x="684" y="514" width="18" height="24" fill="#6baa00"/>
<rect x="684" y="538" width="18" height="8" fill="#60a700"/>
<rect x="684" y="546" width="18" height="8" fill="#5ca500"/>
<rect x="684" y="554" width="18" height="8" fill="#57a400"/>
<rect x="684" y="562" width="18" height="8" fill="#53a300"/>
<rect x="684" y="570" width="18" height="8" fill="#4fa100"/>
<rect x="684" y="578" width="18" height="8" fill="#4aa000"/>
<rect x="684" y="586" width="18" height="8" fill="#469e00"/>
<rect x="684" y="594" width="18" height="8" fill="#429d00"/>
<rect x="684" y="602" width="18" height="8" fill="#3d9c00"/>
<rect x="684" y="610" width="18" height="16" fill="#3c9b00"/>
<rect x="684" y="626" width="18" height="8" fill="#3b9b00"/>
<rect x="684" y="634" width="18" height="8" fill="#289500"/>
<rect x="684" y="642" width="18" height="8" fill="#0b8b00"/>
<rect x="684" y="650" width="18" height="8" fill="#007d0b"/>
<rect x="684" y="658" width="18" height="8" fill="#005f29"/>
<rect x="684" y="666" width="18" height="8" fill="#003257"/>
<rect x="684" y="674" width="18" height="8" fill="#000f7b"/>
<rect x="684" y="682" width="18" height="8" fill="#00008a"/>
<rect x="684" y="690" width="18" height="8" fill="#050085"/>
<rect x="684" y="698" width="18" height="8" fill="#080081"/>
<rect x="684" y="706" width="18" height="8" fill="#0c007c"/>
<rect x="684" y="714" width="18" height="8" fill="#100078"/>
<rect x="684" y="722" width="18" height="8" fill="#140074"/>
<rect x="684" y="730" width="18" height="8" fill="#18006f"/>
<rect x="684" y="738" width="18" height="8" fill="#1c006a"/>
<rect x="684" y="746" width="18" height="8" fill="#200066"/>
<rect x="684" y="754" width="18" height="8" fill="#240062"/>
<rect x="684" y="762" width="18" height="8" fill="#27005e"/>
<rect x="684" y="770" width="18" height="8" fill="#2b005a"/>
<rect x="684" y="778" width="18" height="8" fill="#2e0056"/>
<rect x="684" y="786" width="18" height="8" fill="#320052"/>
<rect x="684" y="794" width="18" height="8" fill="#36004e"/>
<rect x="684" y="802" width="18" height="8" fill="#38004b"/>
<rect x="684" y="810" width="18" height="8" fill="#3a0049"/>
<rect x="702" y="266" width="18" height="8" fill="#002762"/>
<rect x="702" y="274" width="18" height="8" fill="#002d5c"/>
<rect x="702" y="282" width="18" height="8" fill="#003653"/>
<rect x="702" y="290" width="18" height="8" fill="#003851"/>
<rect x="702" y="298" width="18" height="8" fill="#003950"/>
<rect x="702" y="306" width="18" height="8" fill="#003b4e"/>
<rect x="702" y="314" width="18" height="8" fill="#003c4d"/>
<rect x="702" y="322" width="18" height="8" fill="#004148"/>
<rect x="702" y="330" width="18" height="16" fill="#004247"/>
<rect x="702" y="346" width="18" height="8" fill="#004346"/>
<rect x="702" y="354" width="18" height="8" fill="#004445"/>
<rect x="702" y="362" width="18" height="8" fill="#004544"/>
<rect x="702" y="370" width="18" height="8" fill="#004643"/>
<rect x="702" y="378" width="18" height="8" fill="#004c3d"/>
<rect x="702" y="386" width="18" height="8" fill="#005b2e"/>
<rect x="702" y="394" width="18" height="8" fill="#007c0c"/>
<rect x="702" y="402" width="18" height="8" fill="#1b9100"/>
<rect x="702" y="410" width="18" height="8" fill="#5ba500"/>
<rect x="702" y="418" width="18" height="8" fill="#8db500"/>
<rect x="702" y="426" width="18" height="8" fill="#b8c300"/>
<rect x="702" y="434" width="18" height="8" fill="#c8c200"/>
<rect x="702" y="442" width="18" height="8" fill="#c8b800"/>
<rect x="702" y="450" width="18" height="8" fill="#c8be00"/>
<rect x="702" y="458" width="18" height="8" fill="#c8c600"/>
<rect x="702" y="466" width="18" height="8" fill="#c5c700"/>
<rect x="702" y="474" width="18" height="8" fill="#bdc500"/>
<rect x="702" y="482" width="18" height="8" fill="#b0c000"/>
<rect x="702" y="490" width="18" height="8" fill="#93b700"/>
<rect x="702" y="498" width="18" height="8" fill="#73ad00"/>
<rect x="702" y="506" width="18" height="8" fill="#6eab00"/>
<rect x="702" y="514" width="18" height="8" fill="#6aaa00"/>
<rect x="702" y="522" width="18" height="8" fill="#65a800"/>
<rect x="702" y="530" width="18" height="8" fill="#58a400"/>
<rect x="702" y="538" width="18" height="8" fill="#56a400"/>
<rect x="702" y="546" width="18" height="8" fill="#55a300"/>
<rect x="702" y="554" width="18" height="8" fill="#53a300"/>
<rect x="702" y="562" width="18" height="8" fill="#51a200"/>
<rect x="702" y="570" width="18" height="8" fill="#50a100"/>
<rect x="702" y="578" width="18" height="8" fill="#4ea100"/>
<rect x="702" y="586" width="18" height="8" fill="#4ca000"/>
<rect x="702" y="594" width="18" height="8" fill="#4ba000"/>
<rect x="702" y="602" width="18" height="8" fill="#359900"/>
<rect x="702" y="610" width="18" height="8" fill="#158f00"/>
<rect x="702" y="618" width="18" height="8" fill="#007c0c"/>
<rect x="702" y="626" width="18" height="8" fill="#006425"/>
<rect x="702" y="634" width="18" height="8" fill="#004643"/>
<rect x="702" y="642" width="18" height="8" fill="#002367"/>
<rect x="702" y="650" width="18" height="8" fill="#000882"/>
<rect x="702" y="658" width="18" height="8" fill="#020087"/>
<rect x="702" y="666" width="18" height="8" fill="#060084"/>
<rect x="702" y="674" width="18" height="8" fill="#080081"/>
<rect x="702" y="682" width="18" height="8" fill="#0a007f"/>
<rect x="702" y="690" width="18" height="8" fill="#0c007c"/>
<rect x="702" y="698" width="18" height="8" fill="#100078"/>
<rect x="702" y="706" width="18" height="8" fill="#140074"/>
<rect x="702" y="714" width="18" height="8" fill="#18006f"/>
<rect x="702" y="722" width="18" height="8" fill="#1c006a"/>
<rect x="702" y="730" width="18" height="8" fill="#200066"/>
<rect x="702" y="738" width="18" height="8" fill="#240062"/>
<rect x="702" y="746" width="18" height="8" fill="#26005f"/>
<rect x="702" y="754" width="18" height="8" fill="#28005d"/>
<rect x="702" y="762" width="18" height="8" fill="#2a005b"/>
<rect x="702" y="770" width="18" height="8" fill="#2c0058"/>
<rect x="702" y="778" width="18" height="8" fill="#300054"/>
<rect x="702" y="786" width="18" height="8" fill="#310053"/>
<rect x="702" y="794" width="18" height="8" fill="#320052"/>
<rect x="702" y="802" width="18" height="8" fill="#330051"/>
<rect x="702" y="810" width="18" height="8" fill="#340050"/>
<rect x="720" y="234" width="18" height="8" fill="#000c7e"/>
<rect x="720" y="242" width="18" height="8" fill="#001871"/>
<rect x="720" y="250" width="18" height="8" fill="#002762"/>
<rect x="720" y="258" width="18" height="8" fill="#002d5c"/>
<rect x="720" y="266" width="18" height="8" fill="#003356"/>
<rect x="720" y="274" width="18" height="8" fill="#003950"/>
<rect x="720" y="282" width="18" height="8" fill="#003c4d"/>
<rect x="720" y="290" width="18" height="8" fill="#004049"/>
<rect x="720" y="298" width="18" height="8" fill="#004445"/>
<rect x="720" y="306" width="18" height="8" fill="#004841"/>
<rect x="720" y="314" width="18" height="8" fill="#004c3d"/>
<rect x="720" y="322" width="18" height="8" fill="#005336"/>
<rect x="720" y="330" width="18" height="8" fill="#006226"/>
<rect x="720" y="338" width="18" height="8" fill="#00790f"/>
<rect x="720" y="346" width="18" height="8" fill="#0d8c00"/>
<rect x="720" y="354" width="18" height="8" fill="#359900"/>
<rect x="720" y="362" width="18" height="8" fill="#6baa00"/>
<rect x="720" y="370" width="18" height="8" fill="#c8c800"/>
<rect x="720" y="378" width="18" height="8" fill="#ca8100"/>
<rect x="720" y="386" width="18" height="8" fill="#cb5900"/>
<rect x="720" y="394" width="18" height="8" fill="#cc3000"/>
<rect x="720" y="402" width="18" height="8" fill="#cc2600"/>
<rect x="720" y="410" width="18" height="8" fill="#cc3000"/>
<rect x="720" y="418" width="18" height="8" fill="#cb4400"/>
<rect x="720" y="426" width="18" height="8" fill="#cb5900"/>
<rect x="720" y="434" width="18" height="8" fill="#ca6d00"/>
<rect x="720" y="442" width="18" height="8" fill="#ca8100"/>
<rect x="720" y="450" width="18" height="8" fill="#c99500"/>
<rect x="720" y="458" width="18" height="8" fill="#c9aa00"/>
<rect x="720" y="466" width="18" height="8" fill="#c8be00"/>
<rect x="720" y="474" width="18" height="8" fill="#c8c800"/>
<rect x="720" y="482" width="18" height="8" fill="#bbc400"/>
<rect x="720" y="490" width="18" height="8" fill="#adbf00"/>
<rect x="720" y="498" width="18" height="8" fill="#a7bd00"/>
<rect x="720" y="506" width="18" height="8" fill="#a0bb00"/>
<rect x="720" y="514" width="18" height="8" fill="#93b700"/>
<rect x="720" y="522" width="18" height="8" fill="#8fb600"/>
<rect x="720" y="530" width="18" height="8" fill="#8cb500"/>
<rect x="720" y="538" width="18" height="8" fill="#89b400"/>
<rect x="720" y="546" width="18" height="8" fill="#85b300"/>
<rect x="720" y="554" width="18" height="8" fill="#78ae00"/>
<rect x="720" y="562" width="18" height="8" fill="#6baa00"/>
<rect x="720" y="570" width="18" height="8" fill="#63a800"/>
<rect x="720" y="578" width="18" height="8" fill="#459e00"/>
<rect x="720" y="586" width="18" height="8" fill="#1b9100"/>
<rect x="720" y="594" width="18" height="8" fill="#007d0b"/>
<rect x="720" y="602" width="18" height="8" fill="#005f29"/>
<rect x="720" y="610" width="18" height="8" fill="#003c4d"/>
<rect x="720" y="618" width="18" height="8" fill="#001a70"/>
<rect x="720" y="626" width="18" height="8" fill="#000387"/>
<rect x="720" y="634" width="18" height="8" fill="#030086"/>
<rect x="720" y="642" width="18" height="8" fill="#060083"/>
<rect x="720" y="650" width="18" height="8" fill="#080081"/>
<rect x="720" y="658" width="18" height="8" fill="#090080"/>
<rect x="720" y="666" width="18" height="8" fill="#0a007e"/>
<rect x="720" y="674" width="18" height="8" fill="#0d007c"/>
<rect x="720" y="682" width="18" height="8" fill="#0f007a"/>
<rect x="720" y="690" width="18" height="8" fill="#110077"/>
<rect x="720" y="698" width="18" height="8" fill="#140074"/>
<rect x="720" y="706" width="18" height="8" fill="#170070"/>
<rect x="720" y="714" width="18" height="8" fill="#1a006c"/>
<rect x="720" y="722" width="18" height="8" fill="#1e0069"/>
<rect x="720" y="730" width="18" height="8" fill="#210065"/>
<rect x="720" y="738" width="18" height="8" fill="#240062"/>
<rect x="720" y="746" width="18" height="8" fill="#27005e"/>
<rect x="720" y="754" width="18" height="8" fill="#29005c"/>
<rect x="720" y="762" width="18" height="8" fill="#2c0058"/>
<rect x="720" y="770" width="18" height="8" fill="#2e0056"/>
<rect x="720" y="778" width="18" height="8" fill="#310053"/>
<rect x="720" y="786" width="18" height="8" fill="#330050"/>
<rect x="720" y="794" width="18" height="8" fill="#36004e"/>
<rect x="720" y="802" width="18" height="16" fill="#010001"/>
<rect x="738" y="210" width="18" height="8" fill="#000585"/>
<rect x="738" y="218" width="18" height="8" fill="#000f7b"/>
<rect x="738" y="226" width="18" height="8" fill="#001b6e"/>
<rect x="738" y="234" width="18" height="8" fill="#002664"/>
<rect x="738" y="242" width="18" height="8" fill="#002e5b"/>
<rect x="738" y="250" width="18" height="8" fill="#003653"/>
<rect x="738" y="258" width="18" height="8" fill="#003f4a"/>
<rect x="738" y="266" width="18" height="8" fill="#004643"/>
<rect x="738" y="274" width="18" height="8" fill="#004c3d"/>
<rect x="738" y="282" width="18" height="8" fill="#005b2e"/>
<rect x="738" y="290" width="18" height="8" fill="#007117"/>
<rect x="738" y="298" width="18" height="8" fill="#008800"/>
<rect x="738" y="306" width="18" height="8" fill="#289500"/>
<rect x="738" y="314" width="18" height="8" fill="#5da600"/>
<rect x="738" y="322" width="18" height="8" fill="#a0bb00"/>
<rect x="738" y="330" width="18" height="8" fill="#c8b400"/>
<rect x="738" y="338" width="18" height="8" fill="#ca6300"/>
<rect x="738" y="346" width="18" height="8" fill="#cc1c00"/>
<rect x="738" y="354" width="18" height="8" fill="#df1200"/>
<rect x="738" y="362" width="18" height="8" fill="#f20700"/>
<rect x="738" y="370" width="18" height="8" fill="#f90400"/>
<rect x="738" y="378" width="18" height="8" fill="#ff0000"/>
<rect x="738" y="386" width="18" height="8" fill="#f90400"/>
<rect x="738" y="394" width="18" height="8" fill="#ef0900"/>
<rect x="738" y="402" width="18" height="8" fill="#e60e00"/>
<rect x="738" y="410" width="18" height="8" fill="#dc1300"/>
<rect x="738" y="418" width="18" height="8" fill="#d21800"/>
<rect x="738" y="426" width="18" height="8" fill="#cc2600"/>
<rect x="738" y="434" width="18" height="8" fill="#cb4400"/>
<rect x="738" y="442" width="18" height="8" fill="#cb5900"/>
<rect x="738" y="450" width="18" height="8" fill="#ca6d00"/>
<rect x="738" y="458" width="18" height="8" fill="#ca7700"/>
<rect x="738" y="466" width="18" height="8" fill="#ca7a00"/>
<rect x="738" y="474" width="18" height="8" fill="#ca7c00"/>
<rect x="738" y="482" width="18" height="8" fill="#ca7f00"/>
<rect x="738" y="490" width="18" height="8" fill="#ca8100"/>
<rect x="738" y="498" width="18" height="8" fill="#c98b00"/>
<rect x="738" y="506" width="18" height="8" fill="#c98f00"/>
<rect x="738" y="514" width="18" height="8" fill="#c99200"/>
<rect x="738" y="522" width="18" height="8" fill="#c99500"/>
<rect x="738" y="530" width="18" height="8" fill="#c9aa00"/>
<rect x="738" y="538" width="18" height="8" fill="#c8be00"/>
<rect x="738" y="546" width="18" height="8" fill="#bbc400"/>
<rect x="738" y="554" width="18" height="8" fill="#93b700"/>
<rect x="738" y="562" width="18" height="8" fill="#5da600"/>
<rect x="738" y="570" width="18" height="8" fill="#359900"/>
<rect x="738" y="578" width="18" height="8" fill="#008800"/>
<rect x="738" y="586" width="18" height="8" fill="#006a1f"/>
<rect x="738" y="594" width="18" height="8" fill="#004c3d"/>
<rect x="738" y="602" width="18" height="8" fill="#002367"/>
<rect x="738" y="610" width="18" height="8" fill="#000c7e"/>
<rect x="738" y="618" width="18" height="8" fill="#000387"/>
<rect x="738" y="626" width="18" height="8" fill="#020087"/>
<rect x="738" y="634" width="18" height="8" fill="#080081"/>
<rect x="738" y="642" width="18" height="8" fill="#0a007f"/>
<rect x="738" y="650" width="18" height="8" fill="#0c007c"/>
<rect x="738" y="658" width="18" height="8" fill="#0e007a"/>
<rect x="738" y="666" width="18" height="8" fill="#100078"/>
<rect x="738" y="674" width="18" height="8" fill="#140074"/>
<rect x="738" y="682" width="18" height="8" fill="#170070"/>
<rect x="738" y="690" width="18" height="8" fill="#1a006d"/>
<rect x="738" y="698" width="18" height="8" fill="#1d0069"/>
<rect x="738" y="706" width="18" height="8" fill="#200066"/>
<rect x="738" y="714" width="18" height="8" fill="#240062"/>
<rect x="738" y="722" width="18" height="8" fill="#260060"/>
<rect x="738" y="730" width="18" height="8" fill="#27005e"/>
<rect x="738" y="738" width="18" height="8" fill="#29005c"/>
<rect x="738" y="746" width="18" height="8" fill="#2a005a"/>
<rect x="738" y="754" width="18" height="8" fill="#2c0058"/>
<rect x="738" y="762" width="18" height="8" fill="#2e0057"/>
<rect x="738" y="770" width="18" height="48" fill="#010001"/>
<rect x="756" y="194" width="18" height="8" fill="#000585"/>
<rect x="756" y="202" width="18" height="8" fill="#000f7b"/>
<rect x="756" y="210" width="18" height="8" fill="#001b6e"/>
<rect x="756" y="218" width="18" height="8" fill="#002465"/>
<rect x="756" y="226" width="18" height="8" fill="#002d5c"/>
<rect x="756" y="234" width="18" height="8" fill="#003653"/>
<rect x="756" y="242" width="18" height="8" fill="#004148"/>
<rect x="756" y="250" width="18" height="8" fill="#004a3f"/>
<rect x="756" y="258" width="18" height="8" fill="#005336"/>
<rect x="756" y="266" width="18" height="8" fill="#006a1f"/>
<rect x="756" y="274" width="18" height="8" fill="#008008"/>
<rect x="756" y="282" width="18" height="8" fill="#1b9100"/>
<rect x="756" y="290" width="18" height="8" fill="#439d00"/>
<rect x="756" y="298" width="18" height="8" fill="#85b300"/>
<rect x="756" y="306" width="18" height="8" fill="#c8c800"/>
<rect x="756" y="314" width="18" height="8" fill="#ca7700"/>
<rect x="756" y="322" width="18" height="8" fill="#cc1c00"/>
<rect x="756" y="330" width="18" height="8" fill="#df1200"/>
<rect x="756" y="338" width="18" height="8" fill="#f50500"/>
<rect x="756" y="346" width="18" height="8" fill="#fd0100"/>
<rect x="756" y="354" width="18" height="8" fill="#ff1414"/>
<rect x="756" y="362" width="18" height="8" fill="#ff0000"/>
<rect x="756" y="370" width="18" height="8" fill="#fe0100"/>
<rect x="756" y="378" width="18" height="8" fill="#fd0100"/>
<rect x="756" y="386" width="18" height="8" fill="#fc0200"/>
<rect x="756" y="394" width="18" height="8" fill="#f10800"/>
<rect x="756" y="402" width="18" height="8" fill="#e70d00"/>
<rect x="756" y="410" width="18" height="8" fill="#df1200"/>
<rect x="756" y="418" width="18" height="8" fill="#dc1300"/>
<rect x="756" y="426" width="18" height="8" fill="#d91500"/>
<rect x="756" y="434" width="18" height="8" fill="#d71600"/>
<rect x="756" y="442" width="18" height="8" fill="#d41800"/>
<rect x="756" y="450" width="18" height="24" fill="#d31800"/>
<rect x="756" y="474" width="18" height="8" fill="#d21800"/>
<rect x="756" y="482" width="18" height="16" fill="#cc1c00"/>
<rect x="756" y="498" width="18" height="8" fill="#cb3a00"/>
<rect x="756" y="506" width="18" height="8" fill="#cb5500"/>
<rect x="756" y="514" width="18" height="8" fill="#ca6d00"/>
<rect x="756" y="522" width="18" height="8" fill="#c98b00"/>
<rect x="756" y="530" width="18" height="8" fill="#c9a800"/>
<rect x="756" y="538" width="18" height="8" fill="#c8c800"/>
<rect x="756" y="546" width="18" height="8" fill="#98b900"/>
<rect x="756" y="554" width="18" height="8" fill="#65a800"/>
<rect x="756" y="562" width="18" height="8" fill="#309700"/>
<rect x="756" y="570" width="18" height="8" fill="#0b8b00"/>
<rect x="756" y="578" width="18" height="8" fill="#00790f"/>
<rect x="756" y="586" width="18" height="8" fill="#005534"/>
<rect x="756" y="594" width="18" height="8" fill="#003257"/>
<rect x="756" y="602" width="18" height="8" fill="#000f7b"/>
<rect x="756" y="610" width="18" height="8" fill="#000387"/>
<rect x="756" y="618" width="18" height="8" fill="#020088"/>
<rect x="756" y="626" width="18" height="8" fill="#050085"/>
<rect x="756" y="634" width="18" height="8" fill="#080081"/>
<rect x="756" y="642" width="18" height="8" fill="#0c007c"/>
<rect x="756" y="650" width="18" height="8" fill="#0f0079"/>
<rect x="756" y="658" width="18" height="8" fill="#120076"/>
<rect x="756" y="666" width="18" height="8" fill="#150072"/>
<rect x="756" y="674" width="18" height="8" fill="#18006f"/>
<rect x="756" y="682" width="18" height="8" fill="#1c006a"/>
<rect x="756" y="690" width="18" height="8" fill="#1e0068"/>
<rect x="756" y="698" width="18" height="8" fill="#210065"/>
<rect x="756" y="706" width="18" height="8" fill="#230063"/>
<rect x="756" y="714" width="18" height="8" fill="#250060"/>
<rect x="756" y="722" width="18" height="8" fill="#27005e"/>
<rect x="756" y="730" width="18" height="8" fill="#2a005b"/>
<rect x="756" y="738" width="18" height="80" fill="#010001"/>
<rect x="774" y="178" width="18" height="8" fill="#000585"/>
<rect x="774" y="186" width="18" height="8" fill="#000f7b"/>
<rect x="774" y="194" width="18" height="8" fill="#001b6e"/>
<rect x="774" y="202" width="18" height="8" fill="#002367"/>
<rect x="774" y="210" width="18" height="8" fill="#002c5e"/>
<rect x="774" y="218" width="18" height="8" fill="#003257"/>
<rect x="774" y="226" width="18" height="8" fill="#003950"/>
<rect x="774" y="234" width="18" height="8" fill="#003f4a"/>
<rect x="774" y="242" width="18" height="8" fill="#004c3d"/>
<rect x="774" y="250" width="18" height="8" fill="#005b2e"/>
<rect x="774" y="258" width="18" height="8" fill="#007117"/>
<rect x="774" y="266" width="18" height="8" fill="#008008"/>
<rect x="774" y="274" width="18" height="8" fill="#1b9100"/>
<rect x="774" y="282" width="18" height="8" fill="#439d00"/>
<rect x="774" y="290" width="18" height="8" fill="#78ae00"/>
<rect x="774" y="298" width="18" height="8" fill="#bbc400"/>
<rect x="774" y="306" width="18" height="8" fill="#ca8100"/>
<rect x="774" y="314" width="18" height="8" fill="#cc2600"/>
<rect x="774" y="322" width="18" height="8" fill="#df1200"/>
<rect x="774" y="330" width="18" height="8" fill="#ec0a00"/>
<rect x="774" y="338" width="18" height="48" fill="#ff0000"/>
<rect x="774" y="386" width="18" height="16" fill="#f50500"/>
<rect x="774" y="402" width="18" height="8" fill="#ec0a00"/>
<rect x="774" y="410" width="18" height="8" fill="#e60e00"/>
<rect x="774" y="418" width="18" height="8" fill="#d91500"/>
<rect x="774" y="426" width="18" height="16" fill="#d81500"/>
<rect x="774" y="442" width="18" height="8" fill="#d81600"/>
<rect x="774" y="450" width="18" height="16" fill="#d71600"/>
<rect x="774" y="466" width="18" height="8" fill="#d61600"/>
<rect x="774" y="474" width="18" height="16" fill="#d61700"/>
<rect x="774" y="490" width="18" height="8" fill="#cc1c00"/>
<rect x="774" y="498" width="18" height="8" fill="#cb4b00"/>
<rect x="774" y="506" width="18" height="8" fill="#ca7700"/>
<rect x="774" y="514" width="18" height="8" fill="#c99500"/>
<rect x="774" y="522" width="18" height="8" fill="#c8b800"/>
<rect x="774" y="530" width="18" height="8" fill="#b8c300"/>
<rect x="774" y="538" width="18" height="8" fill="#83b200"/>
<rect x="774" y="546" width="18" height="8" fill="#50a200"/>
<rect x="774" y="554" width="18" height="8" fill="#1b9100"/>
<rect x="774" y="562" width="18" height="8" fill="#008800"/>
<rect x="774" y="570" width="18" height="8" fill="#006e1a"/>
<rect x="774" y="578" width="18" height="8" fill="#005534"/>
<rect x="774" y="586" width="18" height="8" fill="#003c4d"/>
<rect x="774" y="594" width="18" height="8" fill="#001e6b"/>
<rect x="774" y="602" width="18" height="8" fill="#000b7f"/>
<rect x="774" y="610" width="18" height="8" fill="#00008a"/>
<rect x="774" y="618" width="18" height="8" fill="#030087"/>
<rect x="774" y="626" width="18" height="8" fill="#050084"/>
<rect x="774" y="634" width="18" height="8" fill="#080081"/>
<rect x="774" y="642" width="18" height="8" fill="#100078"/>
<rect x="774" y="650" width="18" height="8" fill="#130075"/>
<rect x="774" y="658" width="18" height="8" fill="#150072"/>
<rect x="774" y="666" width="18" height="8" fill="#18006f"/>
<rect x="774" y="674" width="18" height="8" fill="#200066"/>
<rect x="774" y="682" width="18" height="8" fill="#230063"/>
<rect x="774" y="690" width="18" height="8" fill="#26005f"/>
<rect x="774" y="698" width="18" height="8" fill="#29005c"/>
<rect x="774" y="706" width="18" height="8" fill="#2c0058"/>
<rect x="774" y="714" width="18" height="104" fill="#010001"/>
</svg>
<div style="position:absolute;left:143px;top:169px;width:648px;height:647px;border:1px solid #000;box-sizing:content-box;margin:-0px"></div>
<div class="k" style="left:162px;top:811px;width:1px;height:6px"></div>
<div class="k" style="left:162px;top:170px;width:1px;height:6px"></div>
<div class="k" style="left:180px;top:811px;width:1px;height:6px"></div>
<div class="k" style="left:180px;top:170px;width:1px;height:6px"></div>
<div class="k" style="left:198px;top:811px;width:1px;height:6px"></div>
<div class="k" style="left:198px;top:170px;width:1px;height:6px"></div>
<div class="k" style="left:216px;top:811px;width:1px;height:6px"></div>
<div class="k" style="left:216px;top:170px;width:1px;height:6px"></div>
<div class="k" style="left:234px;top:805px;width:1px;height:12px"></div>
<div class="k" style="left:234px;top:170px;width:1px;height:12px"></div>
<div class="k" style="left:252px;top:811px;width:1px;height:6px"></div>
<div class="k" style="left:252px;top:170px;width:1px;height:6px"></div>
<div class="k" style="left:270px;top:811px;width:1px;height:6px"></div>
<div class="k" style="left:270px;top:170px;width:1px;height:6px"></div>
<div class="k" style="left:288px;top:811px;width:1px;height:6px"></div>
<div class="k" style="left:288px;top:170px;width:1px;height:6px"></div>
<div class="k" style="left:306px;top:811px;width:1px;height:6px"></div>
<div class="k" style="left:306px;top:170px;width:1px;height:6px"></div>
<div class="k" style="left:324px;top:805px;width:1px;height:12px"></div>
<div class="k" style="left:324px;top:170px;width:1px;height:12px"></div>
<div class="k" style="left:342px;top:811px;width:1px;height:6px"></div>
<div class="k" style="left:342px;top:170px;width:1px;height:6px"></div>
<div class="k" style="left:360px;top:811px;width:1px;height:6px"></div>
<div class="k" style="left:360px;top:170px;width:1px;height:6px"></div>
<div class="k" style="left:378px;top:811px;width:1px;height:6px"></div>
<div class="k" style="left:378px;top:170px;width:1px;height:6px"></div>
<div class="k" style="left:396px;top:811px;width:1px;height:6px"></div>
<div class="k" style="left:396px;top:170px;width:1px;height:6px"></div>
<div class="k" style="left:414px;top:805px;width:1px;height:12px"></div>
<div class="k" style="left:414px;top:170px;width:1px;height:12px"></div>
<div class="k" style="left:432px;top:811px;width:1px;height:6px"></div>
<div class="k" style="left:432px;top:170px;width:1px;height:6px"></div>
<div class="k" style="left:450px;top:811px;width:1px;height:6px"></div>
<div class="k" style="left:450px;top:170px;width:1px;height:6px"></div>
<div class="k" style="left:468px;top:811px;width:1px;height:6px"></div>
<div class="k" style="left:468px;top:170px;width:1px;height:6px"></div>
<div class="k" style="left:486px;top:811px;width:1px;height:6px"></div>
<div class="k" style="left:486px;top:170px;width:1px;height:6px"></div>
<div class="k" style="left:504px;top:805px;width:1px;height:12px"></div>
<div class="k" style="left:504px;top:170px;width:1px;height:12px"></div>
<div class="k" style="left:522px;top:811px;width:1px;height:6px"></div>
<div class="k" style="left:522px;top:170px;width:1px;height:6px"></div>
<div class="k" style="left:540px;top:811px;width:1px;height:6px"></div>
<div class="k" style="left:540px;top:170px;width:1px;height:6px"></div>
<div class="k" style="left:558px;top:811px;width:1px;height:6px"></div>
<div class="k" style="left:558px;top:170px;width:1px;height:6px"></div>
<div class="k" style="left:576px;top:811px;width:1px;height:6px"></div>
<div class="k" style="left:576px;top:170px;width:1px;height:6px"></div>
<div class="k" style="left:594px;top:805px;width:1px;height:12px"></div>
<div class="k" style="left:594px;top:170px;width:1px;height:12px"></div>
<div class="k" style="left:612px;top:811px;width:1px;height:6px"></div>
<div class="k" style="left:612px;top:170px;width:1px;height:6px"></div>
<div class="k" style="left:630px;top:811px;width:1px;height:6px"></div>
<div class="k" style="left:630px;top:170px;width:1px;height:6px"></div>
<div class="k" style="left:648px;top:811px;width:1px;height:6px"></div>
<div class="k" style="left:648px;top:170px;width:1px;height:6px"></div>
<div class="k" style="left:666px;top:811px;width:1px;height:6px"></div>
<div class="k" style="left:666px;top:170px;width:1px;height:6px"></div>
<div class="k" style="left:684px;top:805px;width:1px;height:12px"></div>
<div class="k" style="left:684px;top:170px;width:1px;height:12px"></div>
<div class="k" style="left:702px;top:811px;width:1px;height:6px"></div>
<div class="k" style="left:702px;top:170px;width:1px;height:6px"></div>
<div class="k" style="left:720px;top:811px;width:1px;height:6px"></div>
<div class="k" style="left:720px;top:170px;width:1px;height:6px"></div>
<div class="k" style="left:738px;top:811px;width:1px;height:6px"></div>
<div class="k" style="left:738px;top:170px;width:1px;height:6px"></div>
<div class="k" style="left:756px;top:811px;width:1px;height:6px"></div>
<div class="k" style="left:756px;top:170px;width:1px;height:6px"></div>
<div class="k" style="left:774px;top:805px;width:1px;height:12px"></div>
<div class="k" style="left:774px;top:170px;width:1px;height:12px"></div>
<div class="k" style="left:144px;top:818px;width:12px;height:1px"></div>
<div class="k" style="left:780px;top:818px;width:12px;height:1px"></div>
<div class="k" style="left:144px;top:738px;width:6px;height:1px"></div>
<div class="k" style="left:786px;top:738px;width:6px;height:1px"></div>
<div class="k" style="left:144px;top:658px;width:12px;height:1px"></div>
<div class="k" style="left:780px;top:658px;width:12px;height:1px"></div>
<div class="k" style="left:144px;top:578px;width:6px;height:1px"></div>
<div class="k" style="left:786px;top:578px;width:6px;height:1px"></div>
<div class="k" style="left:144px;top:498px;width:12px;height:1px"></div>
<div class="k" style="left:780px;top:498px;width:12px;height:1px"></div>
<div class="k" style="left:144px;top:418px;width:6px;height:1px"></div>
<div class="k" style="left:786px;top:418px;width:6px;height:1px"></div>
<div class="k" style="left:144px;top:338px;width:12px;height:1px"></div>
<div class="k" style="left:780px;top:338px;width:12px;height:1px"></div>
<div class="k" style="left:144px;top:258px;width:6px;height:1px"></div>
<div class="k" style="left:786px;top:258px;width:6px;height:1px"></div>
<div class="k" style="left:144px;top:178px;width:12px;height:1px"></div>
<div class="k" style="left:780px;top:178px;width:12px;height:1px"></div>
<div class="t" style="left:-156.00px;top:827.95px;width:600px;text-align:center">0</div>
<div class="t" style="left:-66.00px;top:827.95px;width:600px;text-align:center">50</div>
<div class="t" style="left:24.00px;top:827.95px;width:600px;text-align:center">100</div>
<div class="t" style="left:114.00px;top:827.95px;width:600px;text-align:center">150</div>
<div class="t" style="left:204.00px;top:827.95px;width:600px;text-align:center">200</div>
<div class="t" style="left:294.00px;top:827.95px;width:600px;text-align:center">250</div>
<div class="t" style="left:384.00px;top:827.95px;width:600px;text-align:center">300</div>
<div class="t" style="left:474.00px;top:827.95px;width:600px;text-align:center">350</div>
<div class="t" style="left:-168.80px;top:800.65px;width:300px;text-align:right">-40</div>
<div class="t" style="left:-168.80px;top:640.65px;width:300px;text-align:right">-20</div>
<div class="t" style="left:-168.80px;top:480.65px;width:300px;text-align:right">0</div>
<div class="t" style="left:-168.80px;top:320.65px;width:300px;text-align:right">20</div>
<div class="t" style="left:-168.80px;top:160.65px;width:300px;text-align:right">40</div>
<div class="t" style="left:168.10px;top:868.35px;width:600px;text-align:center">Longitude</div>
<div class="t" style="left:-0.70px;top:393.65px">Latitude</div>
<div class="t" style="left:171.65px;top:131.65px;width:600px;text-align:center"><span style="font-size:30.3px">PBf20150520  UT: 16.25  mjd: 57162</span></div>
<div class="t" style="left:402.00px;top:-4.35px;width:600px;text-align:center">TEC</div>
<div style="position:absolute;left:540px;top:34px;width:324px;height:13px;background:linear-gradient(to right,#000000 0.000%,#400042 15.000%,#00008a 28.333%,#008800 43.333%,#c8c800 55.833%,#cc1c00 70.000%,#ff0000 83.333%,#ffffff 100.000%);outline:1px solid #000"></div>
<div class="t" style="left:240.00px;top:57.15px;width:600px;text-align:center">0</div>
<div class="k" style="left:594px;top:34px;width:1px;height:2px;opacity:.75"></div>
<div class="k" style="left:594px;top:45px;width:1px;height:2px;opacity:.75"></div>
<div class="t" style="left:294.00px;top:57.15px;width:600px;text-align:center">10</div>
<div class="k" style="left:648px;top:34px;width:1px;height:2px;opacity:.75"></div>
<div class="k" style="left:648px;top:45px;width:1px;height:2px;opacity:.75"></div>
<div class="t" style="left:348.00px;top:57.15px;width:600px;text-align:center">20</div>
<div class="k" style="left:702px;top:34px;width:1px;height:2px;opacity:.75"></div>
<div class="k" style="left:702px;top:45px;width:1px;height:2px;opacity:.75"></div>
<div class="t" style="left:402.00px;top:57.15px;width:600px;text-align:center">30</div>
<div class="k" style="left:756px;top:34px;width:1px;height:2px;opacity:.75"></div>
<div class="k" style="left:756px;top:45px;width:1px;height:2px;opacity:.75"></div>
<div class="t" style="left:456.00px;top:57.15px;width:600px;text-align:center">40</div>
<div class="k" style="left:810px;top:34px;width:1px;height:2px;opacity:.75"></div>
<div class="k" style="left:810px;top:45px;width:1px;height:2px;opacity:.75"></div>
<div class="t" style="left:510.00px;top:57.15px;width:600px;text-align:center">50</div>
<div class="t" style="left:564.00px;top:57.15px;width:600px;text-align:center">60</div>
</div></body></html>
